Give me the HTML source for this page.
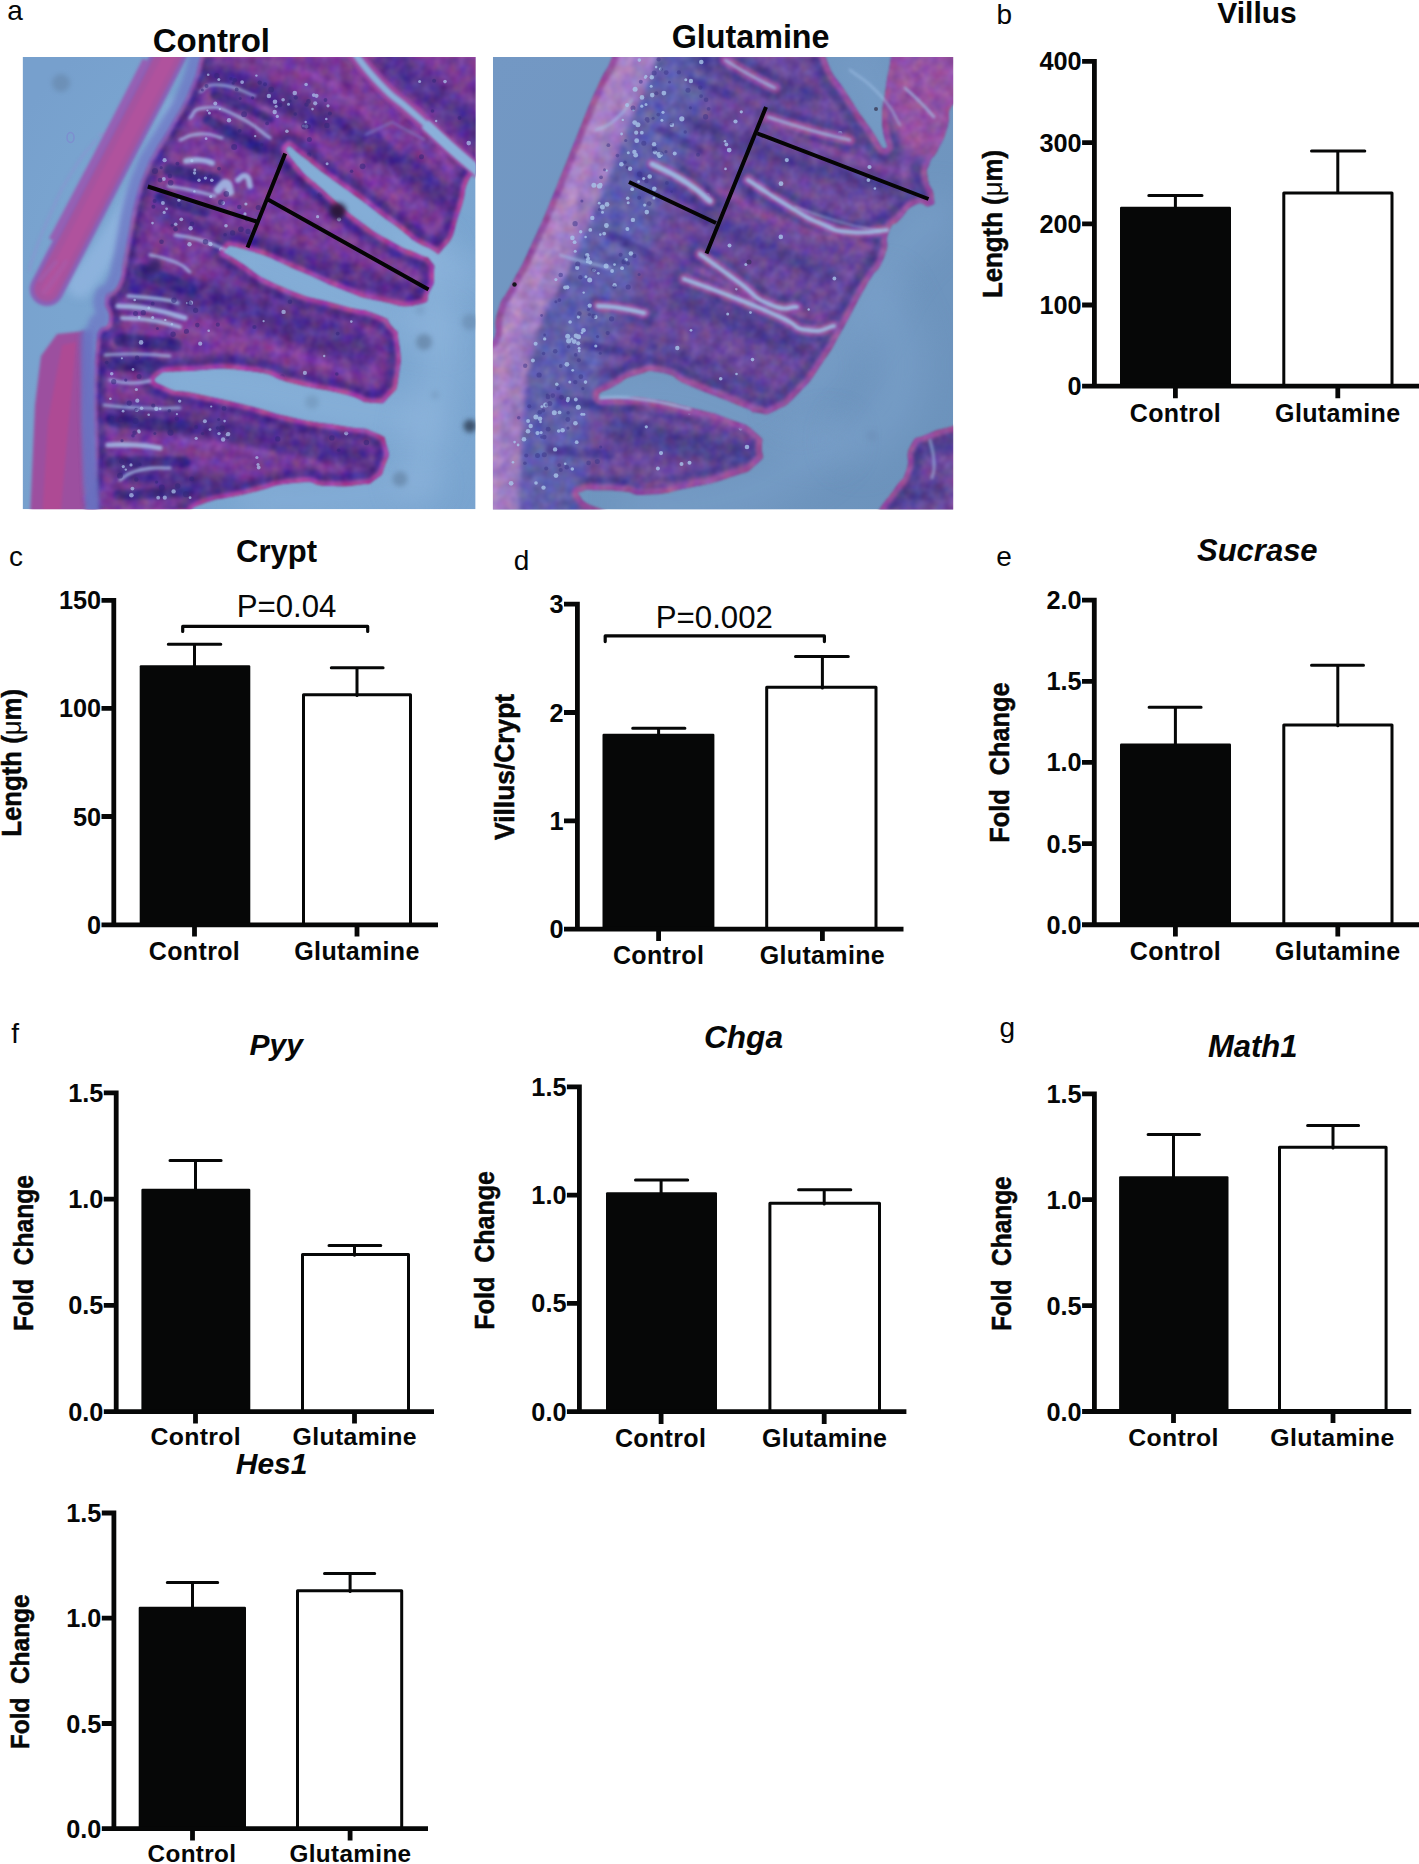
<!DOCTYPE html>
<html lang="en">
<head>
<meta charset="utf-8">
<title>Figure: Glutamine vs Control intestinal morphology</title>
<style>
html,body{margin:0;padding:0;background:#fff;}
body{width:1419px;height:1864px;overflow:hidden;}
svg{display:block;}
svg text{font-family:"Liberation Sans", Arial, Helvetica, sans-serif;fill:#060707;}
</style>
</head>
<body>
<svg width="1419" height="1864" viewBox="0 0 1419 1864">
<rect width="1419" height="1864" fill="#fff"/>
<text x="211.4" y="52.2" text-anchor="middle" font-size="33" font-weight="bold">Control</text>
<text x="750.6" y="48.3" text-anchor="middle" font-size="32.3" font-weight="bold">Glutamine</text>
<clipPath id="hclip"><rect x="22.6" y="57" width="453.0" height="452.2"/></clipPath>
<filter id="ha" filterUnits="userSpaceOnUse" x="0" y="30" width="500" height="500" color-interpolation-filters="sRGB"><feGaussianBlur stdDeviation="0.7"/></filter>
<filter id="hb" filterUnits="userSpaceOnUse" x="0" y="30" width="500" height="500" color-interpolation-filters="sRGB"><feGaussianBlur stdDeviation="1.4"/></filter>
<filter id="hc" filterUnits="userSpaceOnUse" x="0" y="30" width="500" height="500" color-interpolation-filters="sRGB"><feGaussianBlur stdDeviation="2.6"/></filter>
<filter id="hd" filterUnits="userSpaceOnUse" x="0" y="30" width="500" height="500" color-interpolation-filters="sRGB"><feGaussianBlur stdDeviation="4.5"/></filter>
<filter id="he" filterUnits="userSpaceOnUse" x="0" y="30" width="500" height="500" color-interpolation-filters="sRGB"><feGaussianBlur stdDeviation="8"/></filter>
<filter id="hf" filterUnits="userSpaceOnUse" x="0" y="30" width="500" height="500" color-interpolation-filters="sRGB"><feGaussianBlur stdDeviation="16"/></filter>
<filter id="hn" filterUnits="userSpaceOnUse" x="0" y="30" width="500" height="500" color-interpolation-filters="sRGB"><feTurbulence type="fractalNoise" baseFrequency="0.085" numOctaves="2" seed="5" result="t"/><feColorMatrix in="t" type="matrix" values="0.7 0.3 0 0 0  0.2 0.7 0.1 0 0  0 0.2 0.8 0 0  0 0 0 0 1" result="t2"/><feComposite in="SourceGraphic" in2="t2" operator="arithmetic" k1="0" k2="1" k3="0.3" k4="-0.15" result="m"/><feComposite in="m" in2="SourceGraphic" operator="in" result="q"/><feGaussianBlur in="q" stdDeviation="1.3"/></filter>
<radialGradient id="hbg" cx="0.62" cy="0.55" r="0.75"><stop offset="0" stop-color="#7ca7d1"/><stop offset="0.7" stop-color="#7aa5d0"/><stop offset="1" stop-color="#77a0cd"/></radialGradient>
<g clip-path="url(#hclip)">
<rect x="22.6" y="57" width="453.0" height="452.2" fill="url(#hbg)"/>
<path d="M178 110C172 123.3 173.3 121.7 160 150C146.7 178.3 154 165 138 195C122 225 131.3 210 112 240C92.7 270 90.7 270 80 285" stroke="#8fb4de" stroke-width="26" fill="none" stroke-linecap="round" filter="url(#hd)" opacity="0.9"/>
<path d="M96 140C88 150.7 87.3 147 72 172C56.7 197 62.7 187.3 50 215C37.3 242.7 40.7 236.7 34 255C27.3 273.3 31.3 265 30 270" stroke="#8b93d2" stroke-width="3" fill="none" stroke-linecap="round" filter="url(#hb)" opacity="0.55"/>
<path d="M100 135C106 136 118 129.7 118 138C118 146.3 116 134.3 100 160C84 185.7 88.7 181 70 215C51.3 249 52.7 246.3 44 262" stroke="#9a8fd0" stroke-width="3.5" fill="none" stroke-linecap="round" filter="url(#hb)" opacity="0.5"/>
<g filter="url(#hb)">
<path d="M181 30C176.5 39.3 188.4 17.3 167.5 58C146.6 98.7 154.6 82.8 118.4 152C82.2 221.2 81.8 222 59 265.7C36.2 309.4 53 277.2 50 283" stroke="#8a5fb6" stroke-width="34" fill="none" stroke-linecap="butt"/>
<path d="M181 30C176.5 39.3 188.4 17.3 167.5 58C146.6 98.7 154.6 82.8 118.4 152C82.2 221.2 81.8 222 59 265.7C36.2 309.4 53 277.2 50 283" stroke="#a5539f" stroke-width="25" fill="none" stroke-linecap="butt"/>
<path d="M182 30C177.5 39.3 189.4 17.3 168.5 58C147.6 98.7 155.6 82.8 119.4 152C83.2 221.2 82.8 222 60 265.7C37.2 309.4 54 277.2 51 283" stroke="#b0529d" stroke-width="13" fill="none" stroke-linecap="butt"/>
<path d="M146 60C134 83.3 133.3 85 110 130C86.7 175 95.3 158.3 76 195C56.7 231.7 60 225 52 240" stroke="#9560b4" stroke-width="7" fill="none" stroke-linecap="butt"/>
<path d="M57 334L85 331L88 380L90 440L97 520L30 520L33 450L35 405L41 356Z" fill="#9c4f9f"/>
<path d="M62 345L76 342L68 430L60 520L42 520L48 420Z" fill="#ae4a94"/>
</g>
<path d="M66 262C61.3 268.7 59.3 272 52 282C44.7 292 46.7 288.7 44 292" stroke="#a85aa8" stroke-width="5" fill="none" stroke-linecap="round" filter="url(#hb)" opacity="0.7"/>
<path d="M56 262C50.7 268 45.3 274 40 280" stroke="#a060b0" stroke-width="4" fill="none" stroke-linecap="round" filter="url(#hb)" opacity="0.6"/>
<path d="M300 160C320 176 320 178 360 208C400 238 383.3 227.7 420 250C456.7 272.3 453.3 266.7 470 275" stroke="#95bae0" stroke-width="34" fill="none" stroke-linecap="round" filter="url(#hf)" opacity="0.5"/>
<path d="M235 255C256.7 263.3 255 261.7 300 280C345 298.3 323.3 293.3 370 310C416.7 326.7 416.7 323.3 440 330" stroke="#95bae0" stroke-width="30" fill="none" stroke-linecap="round" filter="url(#hf)" opacity="0.5"/>
<path d="M170 380C196.7 382.7 196.7 379.7 250 388C303.3 396.3 273.3 394.3 330 405C386.7 415.7 390 415 420 420" stroke="#95bae0" stroke-width="40" fill="none" stroke-linecap="round" filter="url(#hf)" opacity="0.5"/>
<path d="M250 500C276.7 499.3 273.3 503 330 498C386.7 493 390 489.3 420 485" stroke="#95bae0" stroke-width="26" fill="none" stroke-linecap="round" filter="url(#hf)" opacity="0.5"/>
<path d="M420 250C426.7 276.7 436.7 273.3 440 330C443.3 386.7 436.7 370 430 420C423.3 470 423.3 460 420 480" stroke="#95bae0" stroke-width="40" fill="none" stroke-linecap="round" filter="url(#hf)" opacity="0.5"/>
<g filter="url(#hn)">
<path d="M199 57C205 37 172.3 40.7 206 30C239.7 19.3 235.3 26.7 300 25C364.7 23.3 338.3 25 400 25C461.7 25 456.7 -6.7 485 25C513.3 56.7 485.3 72.3 485 120C484.7 167.7 489 148.7 484 168C479 187.3 478 163.3 470 178C462 192.7 468.3 189 460 212C451.7 235 456.3 235.3 445 247C433.7 258.7 443.7 254.8 426 247C408.3 239.2 414.7 239.8 392 223.5C369.3 207.2 380.5 214.5 358 198C335.5 181.5 342.9 187.7 324.6 174C306.3 160.3 315.2 166 303 157C290.8 148 290.3 144.7 288 147C285.7 149.3 283.8 149.3 296 164C308.2 178.7 303.8 172.4 324.6 191C345.4 209.6 335.9 202.9 358.4 219.8C380.9 236.7 372.5 230.5 392.2 241.8C411.9 253.1 404.7 247.2 417.6 253.6C430.5 260 425.5 254.2 431 261C436.5 267.8 434.3 264 434 274C433.7 284 435.7 280.7 430 291C424.3 301.3 434 301.7 417 305C400 308.3 403.7 306 379 301C354.3 296 368.8 299.7 343 290C317.2 280.3 332.5 285 301.5 272C270.5 259 275.2 258.3 250 251C224.8 243.7 229.3 246.3 226 250C222.7 253.7 221 249.7 240 262C259 274.3 250.7 273 283 287C315.3 301 306 295 337 304C368 313 357.7 306.7 376 314C394.3 321.3 384.3 316.7 392 326C399.7 335.3 396.7 325.7 399 342C401.3 358.3 402 357 399 375C396 393 399 386.7 390 396C381 405.3 387.7 403.7 372 403C356.3 402.3 368.7 400.3 343 394C317.3 387.7 326.7 391.7 295 384C263.3 376.3 283 375.3 248 371C213 366.7 220 369.3 190 371C160 372.7 165.3 370.3 158 376C150.7 381.7 154.7 382 168 388C181.3 394 172 388.3 198 394C224 399.7 213.7 397 246 405C278.3 413 262.7 411 295 418C327.3 425 316.7 421.3 343 426C369.3 430.7 359.3 425.3 374 432C388.7 438.7 383.3 434.7 387 446C390.7 457.3 389 454.7 385 466C381 477.3 384 473.7 375 480C366 486.3 374 483 358 485C342 487 348 486.7 327 486C306 485.3 322 480.3 295 483C268 485.7 277.7 486.7 246 494C214.3 501.3 223.3 496.3 200 505C176.7 513.7 211 515 176 520C141 525 122.7 543.3 95 520C67.3 496.7 94 492.3 93 450C92 407.7 91.3 428 92 393C92.7 358 93 366 95 345C97 324 93.7 338.3 98 330C102.3 321.7 106 330.7 108 320C110 309.3 101 310 104 298C107 286 111 296.7 117 284C123 271.3 119 274.7 122 260C125 245.3 122 260 126 240C130 220 127.7 224 134 200C140.3 176 138.3 184.7 145 168C151.7 151.3 146 164.3 154 150C162 135.7 157.7 145 169 125C180.3 105 178 112.7 188 90C198 67.3 193 77 199 57Z" fill="#a6439f"/>
<mask id="hm"><rect x="0" y="30" width="500" height="500" fill="#000"/><path d="M199 57C205 37 172.3 40.7 206 30C239.7 19.3 235.3 26.7 300 25C364.7 23.3 338.3 25 400 25C461.7 25 456.7 -6.7 485 25C513.3 56.7 485.3 72.3 485 120C484.7 167.7 489 148.7 484 168C479 187.3 478 163.3 470 178C462 192.7 468.3 189 460 212C451.7 235 456.3 235.3 445 247C433.7 258.7 443.7 254.8 426 247C408.3 239.2 414.7 239.8 392 223.5C369.3 207.2 380.5 214.5 358 198C335.5 181.5 342.9 187.7 324.6 174C306.3 160.3 315.2 166 303 157C290.8 148 290.3 144.7 288 147C285.7 149.3 283.8 149.3 296 164C308.2 178.7 303.8 172.4 324.6 191C345.4 209.6 335.9 202.9 358.4 219.8C380.9 236.7 372.5 230.5 392.2 241.8C411.9 253.1 404.7 247.2 417.6 253.6C430.5 260 425.5 254.2 431 261C436.5 267.8 434.3 264 434 274C433.7 284 435.7 280.7 430 291C424.3 301.3 434 301.7 417 305C400 308.3 403.7 306 379 301C354.3 296 368.8 299.7 343 290C317.2 280.3 332.5 285 301.5 272C270.5 259 275.2 258.3 250 251C224.8 243.7 229.3 246.3 226 250C222.7 253.7 221 249.7 240 262C259 274.3 250.7 273 283 287C315.3 301 306 295 337 304C368 313 357.7 306.7 376 314C394.3 321.3 384.3 316.7 392 326C399.7 335.3 396.7 325.7 399 342C401.3 358.3 402 357 399 375C396 393 399 386.7 390 396C381 405.3 387.7 403.7 372 403C356.3 402.3 368.7 400.3 343 394C317.3 387.7 326.7 391.7 295 384C263.3 376.3 283 375.3 248 371C213 366.7 220 369.3 190 371C160 372.7 165.3 370.3 158 376C150.7 381.7 154.7 382 168 388C181.3 394 172 388.3 198 394C224 399.7 213.7 397 246 405C278.3 413 262.7 411 295 418C327.3 425 316.7 421.3 343 426C369.3 430.7 359.3 425.3 374 432C388.7 438.7 383.3 434.7 387 446C390.7 457.3 389 454.7 385 466C381 477.3 384 473.7 375 480C366 486.3 374 483 358 485C342 487 348 486.7 327 486C306 485.3 322 480.3 295 483C268 485.7 277.7 486.7 246 494C214.3 501.3 223.3 496.3 200 505C176.7 513.7 211 515 176 520C141 525 122.7 543.3 95 520C67.3 496.7 94 492.3 93 450C92 407.7 91.3 428 92 393C92.7 358 93 366 95 345C97 324 93.7 338.3 98 330C102.3 321.7 106 330.7 108 320C110 309.3 101 310 104 298C107 286 111 296.7 117 284C123 271.3 119 274.7 122 260C125 245.3 122 260 126 240C130 220 127.7 224 134 200C140.3 176 138.3 184.7 145 168C151.7 151.3 146 164.3 154 150C162 135.7 157.7 145 169 125C180.3 105 178 112.7 188 90C198 67.3 193 77 199 57Z" fill="#fff" stroke="#000" stroke-width="10" filter="url(#hb)"/></mask>
<mask id="hm2"><rect x="0" y="30" width="500" height="500" fill="#000"/><path d="M199 57C205 37 172.3 40.7 206 30C239.7 19.3 235.3 26.7 300 25C364.7 23.3 338.3 25 400 25C461.7 25 456.7 -6.7 485 25C513.3 56.7 485.3 72.3 485 120C484.7 167.7 489 148.7 484 168C479 187.3 478 163.3 470 178C462 192.7 468.3 189 460 212C451.7 235 456.3 235.3 445 247C433.7 258.7 443.7 254.8 426 247C408.3 239.2 414.7 239.8 392 223.5C369.3 207.2 380.5 214.5 358 198C335.5 181.5 342.9 187.7 324.6 174C306.3 160.3 315.2 166 303 157C290.8 148 290.3 144.7 288 147C285.7 149.3 283.8 149.3 296 164C308.2 178.7 303.8 172.4 324.6 191C345.4 209.6 335.9 202.9 358.4 219.8C380.9 236.7 372.5 230.5 392.2 241.8C411.9 253.1 404.7 247.2 417.6 253.6C430.5 260 425.5 254.2 431 261C436.5 267.8 434.3 264 434 274C433.7 284 435.7 280.7 430 291C424.3 301.3 434 301.7 417 305C400 308.3 403.7 306 379 301C354.3 296 368.8 299.7 343 290C317.2 280.3 332.5 285 301.5 272C270.5 259 275.2 258.3 250 251C224.8 243.7 229.3 246.3 226 250C222.7 253.7 221 249.7 240 262C259 274.3 250.7 273 283 287C315.3 301 306 295 337 304C368 313 357.7 306.7 376 314C394.3 321.3 384.3 316.7 392 326C399.7 335.3 396.7 325.7 399 342C401.3 358.3 402 357 399 375C396 393 399 386.7 390 396C381 405.3 387.7 403.7 372 403C356.3 402.3 368.7 400.3 343 394C317.3 387.7 326.7 391.7 295 384C263.3 376.3 283 375.3 248 371C213 366.7 220 369.3 190 371C160 372.7 165.3 370.3 158 376C150.7 381.7 154.7 382 168 388C181.3 394 172 388.3 198 394C224 399.7 213.7 397 246 405C278.3 413 262.7 411 295 418C327.3 425 316.7 421.3 343 426C369.3 430.7 359.3 425.3 374 432C388.7 438.7 383.3 434.7 387 446C390.7 457.3 389 454.7 385 466C381 477.3 384 473.7 375 480C366 486.3 374 483 358 485C342 487 348 486.7 327 486C306 485.3 322 480.3 295 483C268 485.7 277.7 486.7 246 494C214.3 501.3 223.3 496.3 200 505C176.7 513.7 211 515 176 520C141 525 122.7 543.3 95 520C67.3 496.7 94 492.3 93 450C92 407.7 91.3 428 92 393C92.7 358 93 366 95 345C97 324 93.7 338.3 98 330C102.3 321.7 106 330.7 108 320C110 309.3 101 310 104 298C107 286 111 296.7 117 284C123 271.3 119 274.7 122 260C125 245.3 122 260 126 240C130 220 127.7 224 134 200C140.3 176 138.3 184.7 145 168C151.7 151.3 146 164.3 154 150C162 135.7 157.7 145 169 125C180.3 105 178 112.7 188 90C198 67.3 193 77 199 57Z" fill="#fff" stroke="#000" stroke-width="26" filter="url(#hc)"/></mask>
<g mask="url(#hm)">
<rect x="22.6" y="57" width="453.0" height="452.2" fill="#4d2f8b"/>
<rect x="22.6" y="57" width="453.0" height="452.2" fill="#783c98" mask="url(#hm2)"/>
<path d="M215 75C243.3 86.7 245 85 300 110C355 135 333.3 121.7 380 150C426.7 178.3 420 180 440 195" stroke="#4a2f88" stroke-width="26" fill="none" stroke-linecap="round" filter="url(#hd)" opacity="0.85"/>
<path d="M230 130C250 141.7 256.7 141.7 290 165C323.3 188.3 316.7 188.3 330 200" stroke="#432b82" stroke-width="18" fill="none" stroke-linecap="round" filter="url(#hd)" opacity="0.85"/>
<path d="M160 215C183.3 221.7 183.3 221.7 230 235C276.7 248.3 256.7 241.7 300 255C343.3 268.3 323.3 263.3 360 275C396.7 286.7 393.3 285 410 290" stroke="#4c308a" stroke-width="12" fill="none" stroke-linecap="round" filter="url(#hd)" opacity="0.85"/>
<path d="M140 290C166.7 293.3 170 288.3 220 300C270 311.7 243.3 308.3 290 325C336.7 341.7 336.7 341.7 360 350" stroke="#4c308a" stroke-width="34" fill="none" stroke-linecap="round" filter="url(#hd)" opacity="0.85"/>
<path d="M120 415C146.7 418.3 143.3 415 200 425C256.7 435 236.7 434 290 445C343.3 456 336.7 453.7 360 458" stroke="#4c308a" stroke-width="26" fill="none" stroke-linecap="round" filter="url(#hd)" opacity="0.85"/>
<path d="M120 470C136.7 473.3 133.3 475 170 480C206.7 485 210 483.3 230 485" stroke="#4a2f88" stroke-width="20" fill="none" stroke-linecap="round" filter="url(#hd)" opacity="0.85"/>
<path d="M110 360C123.3 360.7 136.7 361.3 150 362" stroke="#412a80" stroke-width="16" fill="none" stroke-linecap="round" filter="url(#hd)" opacity="0.85"/>
<path d="M390 60C406.7 73.3 411.7 76.7 440 100C468.3 123.3 463.3 120 475 130" stroke="#50338e" stroke-width="30" fill="none" stroke-linecap="round" filter="url(#hd)" opacity="0.85"/>
<path d="M170 170C185 173.3 200 176.7 215 180" stroke="#3a2a82" stroke-width="13" fill="none" stroke-linecap="round" filter="url(#hb)" opacity="0.9"/>
<path d="M160 198C175 202.7 190 207.3 205 212" stroke="#3a2a82" stroke-width="11" fill="none" stroke-linecap="round" filter="url(#hb)" opacity="0.9"/>
<path d="M208 120C226 130 244 140 262 150" stroke="#3a2a82" stroke-width="10" fill="none" stroke-linecap="round" filter="url(#hb)" opacity="0.9"/>
<path d="M215 95C233.3 102.7 251.7 110.3 270 118" stroke="#3a2a82" stroke-width="9" fill="none" stroke-linecap="round" filter="url(#hb)" opacity="0.9"/>
<path d="M140 270C156.7 276.7 173.3 283.3 190 290" stroke="#3a2a82" stroke-width="14" fill="none" stroke-linecap="round" filter="url(#hb)" opacity="0.9"/>
<path d="M120 340C138.3 341.7 156.7 343.3 175 345" stroke="#3a2a82" stroke-width="13" fill="none" stroke-linecap="round" filter="url(#hb)" opacity="0.9"/>
<path d="M112 365C128 365.3 144 365.7 160 366" stroke="#3a2a82" stroke-width="11" fill="none" stroke-linecap="round" filter="url(#hb)" opacity="0.9"/>
<path d="M112 420C138 422.7 164 425.3 190 428" stroke="#3a2a82" stroke-width="12" fill="none" stroke-linecap="round" filter="url(#hb)" opacity="0.9"/>
<path d="M110 462C135 462 160 462 185 462" stroke="#3a2a82" stroke-width="11" fill="none" stroke-linecap="round" filter="url(#hb)" opacity="0.9"/>
<path d="M118 495C142 494 166 493 190 492" stroke="#3a2a82" stroke-width="10" fill="none" stroke-linecap="round" filter="url(#hb)" opacity="0.9"/>
<path d="M300 70C316.7 80 316.7 73.3 350 100C383.3 126.7 383.3 133.3 400 150" stroke="#9049ac" stroke-width="6" fill="none" stroke-linecap="round" filter="url(#hc)" opacity="0.75"/>
<path d="M250 100C276.7 116.7 280 116.7 330 150C380 183.3 376.7 183.3 400 200" stroke="#8a47a8" stroke-width="5" fill="none" stroke-linecap="round" filter="url(#hc)" opacity="0.75"/>
<path d="M180 330C206.7 335 206.7 331.7 260 345C313.3 358.3 313.3 361.7 340 370" stroke="#9049ac" stroke-width="6" fill="none" stroke-linecap="round" filter="url(#hc)" opacity="0.75"/>
<path d="M150 440C183.3 443.3 186.7 440 250 450C313.3 460 310 463.3 340 470" stroke="#9049ac" stroke-width="5" fill="none" stroke-linecap="round" filter="url(#hc)" opacity="0.75"/>
<path d="M420 110C430 130 440 150 450 170" stroke="#9049ac" stroke-width="6" fill="none" stroke-linecap="round" filter="url(#hc)" opacity="0.75"/>
<path d="M260 262C283.3 269.7 283.3 273 330 285C376.7 297 376.7 293.7 400 298" stroke="#9049ac" stroke-width="4" fill="none" stroke-linecap="round" filter="url(#hc)" opacity="0.75"/>
</g>
</g>
<path d="M197 50C193 63.3 195.3 65 185 90C174.7 115 177.3 105 166 125C154.7 145 159 135.7 151 150C143 164.3 148.7 151.3 142 168C135.3 184.7 137.3 176 131 200C124.7 224 127 220 123 240C119 260 122.7 245.3 119 260C115.3 274.7 118.3 271.3 112 284C105.7 296.7 103 286 100 298C97 310 105.3 309 103 320C100.7 331 97.7 306.7 93 331C88.3 355.3 90 353.3 89 393C88 432.7 88.7 407.7 90 450C91.3 492.3 92 496.7 93 520" stroke="#6f7cc6" stroke-width="13" fill="none" stroke-linecap="round" filter="url(#hc)" opacity="0.85"/>
<path d="M86 335C86.7 354.3 87 354.7 88 393C89 431.3 87.7 407.7 89 450C90.3 492.3 91 496.7 92 520" stroke="#6a6fc0" stroke-width="12" fill="none" stroke-linecap="round" filter="url(#hc)" opacity="0.8"/>
<path d="M352 50C361.3 61.3 361.3 64.5 380 84C398.7 103.5 391.3 93.8 408 108.5C424.7 123.2 416.3 115.5 430 128C443.7 140.5 432.3 131.3 449 146C465.7 160.7 469.7 163.3 480 172" stroke="#a34aa2" stroke-width="15" fill="none" stroke-linecap="butt" filter="url(#hb)" opacity="0.85"/>
<path d="M352 50C361.3 61.3 361.3 64.5 380 84C398.7 103.5 391.3 93.8 408 108.5C424.7 123.2 416.3 115.5 430 128C443.7 140.5 432.3 131.3 449 146C465.7 160.7 469.7 163.3 480 172" stroke="#8ab0da" stroke-width="6.5" fill="none" stroke-linecap="butt" filter="url(#hb)" opacity="1"/>
<path d="M425 124C433 131.3 430.7 129.7 449 146C467.3 162.3 469.7 164 480 173" stroke="#8ab0da" stroke-width="10" fill="none" stroke-linecap="butt" filter="url(#hb)" opacity="1"/>
<path d="M365 135L392 122L425 140" stroke="#7a78c4" stroke-width="2" fill="none" filter="url(#hb)" opacity=".8"/>
<path d="M118 306C128.7 307 127.7 305 150 309C172.3 313 173.3 315 185 318" stroke="#a6c2ea" stroke-width="5.175" fill="none" stroke-linecap="round" filter="url(#hb)" opacity="0.85"/>
<path d="M122 318C131.3 318.7 130.7 317 150 320C169.3 323 170 324.7 180 327" stroke="#a6c2ea" stroke-width="4.0249999999999995" fill="none" stroke-linecap="round" filter="url(#hb)" opacity="0.85"/>
<path d="M128 296C138.7 297 143.3 296.7 160 299C176.7 301.3 172 301.7 178 303" stroke="#a6c2ea" stroke-width="3.4499999999999997" fill="none" stroke-linecap="round" filter="url(#hb)" opacity="0.85"/>
<path d="M108 445C117 445 117.7 444 135 445C152.3 446 151.7 447 160 448" stroke="#a6c2ea" stroke-width="5.175" fill="none" stroke-linecap="round" filter="url(#hb)" opacity="0.85"/>
<path d="M186 161C190.7 160.7 191.3 159.3 200 160C208.7 160.7 208 162 212 163" stroke="#a6c2ea" stroke-width="5.75" fill="none" stroke-linecap="round" filter="url(#hb)" opacity="0.85"/>
<path d="M218 190C220.7 187.7 222 182.3 226 183C230 183.7 228.7 189 230 192" stroke="#a6c2ea" stroke-width="8.049999999999999" fill="none" stroke-linecap="round" filter="url(#hb)" opacity="0.85"/>
<path d="M238 180C240.7 178.7 242 174 246 176C250 178 248.7 182.7 250 186" stroke="#a6c2ea" stroke-width="5.75" fill="none" stroke-linecap="round" filter="url(#hb)" opacity="0.85"/>
<path d="M175 235C183.3 236.7 183 235 200 240C217 245 217.3 246.7 226 250" stroke="#a6c2ea" stroke-width="2.875" fill="none" stroke-linecap="round" filter="url(#hb)" opacity="0.85"/>
<path d="M190 118C195 114.7 190 109 205 108C220 107 213.3 105 235 115C256.7 125 258.3 130.3 270 138" stroke="#a6c2ea" stroke-width="2.875" fill="none" stroke-linecap="round" filter="url(#hb)" opacity="0.85"/>
<path d="M200 92C206.7 89.7 201.7 83.7 220 85C238.3 86.3 243.3 92.3 255 96" stroke="#a6c2ea" stroke-width="2.3" fill="none" stroke-linecap="round" filter="url(#hb)" opacity="0.85"/>
<path d="M150 255C158.3 257.3 161.7 256.3 175 262C188.3 267.7 185 268.7 190 272" stroke="#a6c2ea" stroke-width="2.875" fill="none" stroke-linecap="round" filter="url(#hb)" opacity="0.85"/>
<path d="M110 380C116.7 381 116.7 382.7 130 383C143.3 383.3 143.3 381.7 150 381" stroke="#a6c2ea" stroke-width="2.875" fill="none" stroke-linecap="round" filter="url(#hb)" opacity="0.85"/>
<path d="M120 480C126.7 476.7 123.3 474 140 470C156.7 466 160 468.7 170 468" stroke="#a6c2ea" stroke-width="2.875" fill="none" stroke-linecap="round" filter="url(#hb)" opacity="0.85"/>
<path d="M168 186C175.3 187.3 174.3 186.7 190 190C205.7 193.3 206.7 194 215 196" stroke="#a6c2ea" stroke-width="2.875" fill="none" stroke-linecap="round" filter="url(#hb)" opacity="0.85"/>
<path d="M180 140C186.7 138 186 134.7 200 134C214 133.3 214.7 136.7 222 138" stroke="#a6c2ea" stroke-width="2.875" fill="none" stroke-linecap="round" filter="url(#hb)" opacity="0.85"/>
<path d="M105 355C115 354.7 113.3 353.7 135 354C156.7 354.3 158.3 355.3 170 356" stroke="#a6c2ea" stroke-width="2.53" fill="none" stroke-linecap="round" filter="url(#hb)" opacity="0.85"/>
<path d="M104 405C116 406 114.7 407 140 408C165.3 409 166.7 408 180 408" stroke="#a6c2ea" stroke-width="2.53" fill="none" stroke-linecap="round" filter="url(#hb)" opacity="0.85"/>
<g fill="#b0c8ee" filter="url(#ha)" opacity=".7" mask="url(#hm)"><circle cx="242.1" cy="82.1" r="1.9"/><circle cx="209.4" cy="112.9" r="1.5"/><circle cx="207.5" cy="110.6" r="1.1"/><circle cx="256.4" cy="75.6" r="1.2"/><circle cx="255.2" cy="136.1" r="1.2"/><circle cx="229" cy="120.2" r="2.2"/><circle cx="275" cy="101.7" r="2.3"/><circle cx="206.1" cy="138.7" r="1.4"/><circle cx="218.8" cy="79.4" r="1.5"/><circle cx="306.1" cy="84.5" r="1.8"/><circle cx="283.1" cy="99.8" r="1.8"/><circle cx="208.2" cy="74.8" r="1.3"/><circle cx="288.5" cy="104.2" r="1.5"/><circle cx="276.1" cy="106.3" r="1.5"/><circle cx="303.3" cy="125.9" r="1.4"/><circle cx="274.7" cy="112" r="2.2"/><circle cx="294.8" cy="93" r="2.3"/><circle cx="215.3" cy="103.4" r="2"/><circle cx="219.8" cy="109.1" r="1.1"/><circle cx="286.9" cy="131.2" r="1.8"/><circle cx="313.8" cy="95.1" r="1.9"/><circle cx="277.3" cy="116.4" r="1.6"/><circle cx="242.4" cy="247.2" r="1.7"/><circle cx="223.1" cy="203" r="1.9"/><circle cx="221.2" cy="249.7" r="2.1"/><circle cx="181.3" cy="219.3" r="1.9"/><circle cx="152.5" cy="223.1" r="1.3"/><circle cx="162.9" cy="202.9" r="2"/><circle cx="164.2" cy="212.4" r="1.6"/><circle cx="245.9" cy="204" r="1.6"/><circle cx="210.4" cy="244.2" r="2.1"/><circle cx="245" cy="213.9" r="1.6"/><circle cx="189.5" cy="244.2" r="2.2"/><circle cx="166.6" cy="208.8" r="1.4"/><circle cx="175.7" cy="224.2" r="1.8"/><circle cx="178.9" cy="200.2" r="1.6"/><circle cx="190.6" cy="228.3" r="2.2"/><circle cx="226" cy="225.8" r="1.8"/><circle cx="190.9" cy="302.7" r="2.2"/><circle cx="200.2" cy="343.7" r="2.1"/><circle cx="165.3" cy="319.9" r="1.2"/><circle cx="187.1" cy="303.1" r="1.2"/><circle cx="148.8" cy="308.1" r="1.5"/><circle cx="134.7" cy="300" r="1.3"/><circle cx="139.1" cy="318.2" r="1.1"/><circle cx="208.7" cy="330.7" r="1.3"/><circle cx="152.7" cy="317.4" r="1.5"/><circle cx="141.1" cy="342.4" r="2.3"/><circle cx="171.9" cy="324.2" r="1.2"/><circle cx="139.2" cy="317.1" r="1.4"/><circle cx="211.2" cy="406.5" r="1.1"/><circle cx="224.6" cy="421.1" r="1.3"/><circle cx="179.7" cy="401.1" r="1.7"/><circle cx="227.6" cy="434.5" r="1.9"/><circle cx="148.7" cy="414.7" r="1.3"/><circle cx="204.9" cy="421.3" r="2"/><circle cx="156.3" cy="408.9" r="2.1"/><circle cx="228.3" cy="434.1" r="2.1"/><circle cx="210" cy="429.6" r="1.4"/><circle cx="176.9" cy="414.2" r="1.1"/><circle cx="123.1" cy="411.2" r="1.4"/><circle cx="196.2" cy="438.3" r="1.6"/><circle cx="223.1" cy="439.5" r="2.2"/><circle cx="160.1" cy="408.8" r="1.4"/><circle cx="141.6" cy="408.2" r="1.8"/><circle cx="219" cy="433.6" r="1.7"/><circle cx="305.7" cy="122" r="1.2"/><circle cx="306.2" cy="126.4" r="2"/><circle cx="312.5" cy="109.1" r="1.3"/><circle cx="315.2" cy="103.3" r="2.1"/><circle cx="328" cy="105.8" r="1.6"/><circle cx="326.3" cy="119" r="1.3"/><circle cx="268.9" cy="96" r="2.2"/><circle cx="316.5" cy="95.8" r="2.1"/><circle cx="139.2" cy="432" r="1.5"/><circle cx="121.9" cy="358.3" r="1.1"/><circle cx="138.8" cy="431" r="1.7"/><circle cx="137.3" cy="400.7" r="2.1"/><circle cx="133" cy="369.5" r="1.4"/><circle cx="111.7" cy="373.7" r="1.8"/><circle cx="110.4" cy="398.7" r="1.3"/><circle cx="136.4" cy="389.5" r="1.6"/><circle cx="123.3" cy="466.6" r="1.6"/><circle cx="136.7" cy="410.2" r="1.7"/><circle cx="191.9" cy="160.7" r="1.6"/><circle cx="164.6" cy="160.2" r="2.1"/><circle cx="163.8" cy="178.9" r="2"/><circle cx="194.5" cy="173" r="1.7"/><circle cx="194.4" cy="191.4" r="1.2"/><circle cx="194.8" cy="169.9" r="1.4"/><circle cx="211.8" cy="180.3" r="1.8"/><circle cx="210.8" cy="196.5" r="1.6"/><circle cx="199" cy="180.2" r="1.7"/><circle cx="205.4" cy="178.1" r="1.7"/><circle cx="158.2" cy="497.7" r="1.9"/><circle cx="190.1" cy="497.7" r="1.4"/><circle cx="164.8" cy="497.7" r="2.1"/><circle cx="131" cy="464.9" r="1.6"/><circle cx="125.8" cy="469.6" r="1.2"/><circle cx="173.6" cy="491.4" r="2.2"/><circle cx="132.4" cy="488.6" r="1.9"/><circle cx="131.4" cy="495.3" r="2.3"/><circle cx="317.6" cy="216.7" r="1.6"/><circle cx="339" cy="219.3" r="2.1"/><circle cx="312.9" cy="180.2" r="1.7"/><circle cx="327.1" cy="163.7" r="1.5"/><circle cx="445" cy="81.6" r="1.8"/><circle cx="419.6" cy="81.4" r="1.5"/><circle cx="436.2" cy="121" r="1.2"/><circle cx="468.7" cy="143.1" r="2.3"/><circle cx="263.6" cy="321.2" r="1.1"/><circle cx="351.3" cy="321.6" r="1.3"/><circle cx="304.9" cy="372.9" r="2.1"/><circle cx="283.6" cy="311.9" r="2.2"/><circle cx="324.2" cy="356" r="1.2"/><circle cx="256.9" cy="457.5" r="1.6"/><circle cx="258.7" cy="467.5" r="1.9"/><circle cx="346.2" cy="433.3" r="2.1"/><circle cx="258" cy="464.5" r="1.6"/></g>
<g fill="#33277a" filter="url(#ha)" opacity=".55" mask="url(#hm)"><circle cx="244.1" cy="114.2" r="2.9"/><circle cx="234.8" cy="80.3" r="2.3"/><circle cx="231" cy="78.8" r="1.7"/><circle cx="206.5" cy="86.1" r="2"/><circle cx="239.7" cy="130.8" r="1.9"/><circle cx="265" cy="84.2" r="2"/><circle cx="202.4" cy="90" r="1.5"/><circle cx="295.3" cy="114.1" r="1.8"/><circle cx="261.7" cy="144.8" r="1.7"/><circle cx="306.5" cy="104.6" r="2.2"/><circle cx="308.5" cy="101.4" r="2.3"/><circle cx="289.4" cy="148.6" r="2"/><circle cx="308.2" cy="126.5" r="2.5"/><circle cx="252.6" cy="97.8" r="1.6"/><circle cx="216.9" cy="75.7" r="2.6"/><circle cx="233.2" cy="83.1" r="1.6"/><circle cx="309.4" cy="139.6" r="2.5"/><circle cx="236.7" cy="89.4" r="1.9"/><circle cx="259.7" cy="82.6" r="2.2"/><circle cx="234.2" cy="146.9" r="3"/><circle cx="271.1" cy="89.6" r="2.9"/><circle cx="240.2" cy="98.5" r="1.5"/><circle cx="192" cy="223.7" r="2.3"/><circle cx="172.1" cy="225.2" r="1.5"/><circle cx="179.1" cy="204.5" r="2.1"/><circle cx="154.6" cy="201.1" r="2"/><circle cx="175.6" cy="229.3" r="2.3"/><circle cx="232.6" cy="232.9" r="2.6"/><circle cx="246.7" cy="219.5" r="2"/><circle cx="258.3" cy="207.5" r="2.6"/><circle cx="220.8" cy="202.2" r="2.8"/><circle cx="248.1" cy="231.4" r="2.6"/><circle cx="239.3" cy="207" r="2.3"/><circle cx="205.5" cy="241.7" r="2.7"/><circle cx="240.9" cy="229.2" r="2.8"/><circle cx="225.1" cy="234.7" r="1.8"/><circle cx="153.4" cy="206.7" r="2"/><circle cx="161.5" cy="241.8" r="2.3"/><circle cx="186.5" cy="331.3" r="2.5"/><circle cx="174" cy="300.2" r="2.7"/><circle cx="197.3" cy="325.1" r="2.3"/><circle cx="189.3" cy="303.3" r="2.6"/><circle cx="152.7" cy="303.7" r="1.9"/><circle cx="195.6" cy="310.3" r="2.6"/><circle cx="217.8" cy="324.7" r="2.1"/><circle cx="173.1" cy="334.2" r="2.7"/><circle cx="185.5" cy="332.1" r="1.6"/><circle cx="143.3" cy="312.7" r="2.6"/><circle cx="157.4" cy="328.4" r="1.5"/><circle cx="135.5" cy="313.4" r="2.5"/><circle cx="196.1" cy="427" r="1.9"/><circle cx="176.8" cy="418.6" r="2.2"/><circle cx="133" cy="435.7" r="1.8"/><circle cx="227.6" cy="437.5" r="1.5"/><circle cx="170.5" cy="432.8" r="3"/><circle cx="169.4" cy="410.7" r="1.8"/><circle cx="224" cy="408.4" r="2.4"/><circle cx="135.6" cy="421" r="2.9"/><circle cx="134.6" cy="432.8" r="2.3"/><circle cx="217.6" cy="428.1" r="1.8"/><circle cx="218.7" cy="419.4" r="1.5"/><circle cx="120.4" cy="419.7" r="2.2"/><circle cx="153.2" cy="405.6" r="2"/><circle cx="154.8" cy="433.6" r="1.5"/><circle cx="202.6" cy="433.6" r="1.7"/><circle cx="221.9" cy="428.5" r="2.9"/><circle cx="280.3" cy="104.9" r="2.1"/><circle cx="329.9" cy="113.6" r="2"/><circle cx="290" cy="101" r="1.6"/><circle cx="267.1" cy="123.4" r="1.9"/><circle cx="325.5" cy="100" r="1.9"/><circle cx="295.8" cy="97.6" r="2.1"/><circle cx="326.9" cy="125.4" r="2.7"/><circle cx="304.2" cy="126.5" r="2.9"/><circle cx="122" cy="440.7" r="1.6"/><circle cx="129.3" cy="403.1" r="2.6"/><circle cx="125.8" cy="380.1" r="1.6"/><circle cx="137.1" cy="357.8" r="2.2"/><circle cx="113.7" cy="381.7" r="2.6"/><circle cx="139.1" cy="376.4" r="2.5"/><circle cx="112" cy="418" r="2.1"/><circle cx="106.7" cy="362.6" r="1.8"/><circle cx="136.2" cy="409.6" r="1.8"/><circle cx="136.3" cy="479.5" r="2.2"/><circle cx="161.2" cy="167.7" r="1.6"/><circle cx="177.4" cy="163.6" r="1.9"/><circle cx="170.7" cy="182.8" r="2.8"/><circle cx="210" cy="176.5" r="2.1"/><circle cx="191.9" cy="175.1" r="2"/><circle cx="155" cy="171.1" r="3"/><circle cx="160.1" cy="180.1" r="2.4"/><circle cx="219" cy="168.6" r="1.9"/><circle cx="169.9" cy="176" r="2.2"/><circle cx="226.3" cy="193.9" r="2.8"/><circle cx="121.7" cy="461.3" r="2.6"/><circle cx="191.7" cy="478.9" r="2.4"/><circle cx="120" cy="475.7" r="2.9"/><circle cx="186" cy="494.2" r="3"/><circle cx="139.9" cy="464.4" r="1.7"/><circle cx="161.8" cy="487.3" r="2.9"/><circle cx="177.7" cy="485.9" r="2.6"/><circle cx="156.6" cy="482.1" r="1.6"/><circle cx="362.6" cy="166.3" r="2.9"/><circle cx="351.6" cy="171.3" r="1.7"/><circle cx="320.1" cy="194.5" r="2.5"/><circle cx="309" cy="154.9" r="2.3"/><circle cx="432.5" cy="111" r="1.8"/><circle cx="434.1" cy="80.8" r="2"/><circle cx="421.5" cy="156.7" r="2.5"/><circle cx="459.5" cy="118" r="1.9"/><circle cx="282.1" cy="376.8" r="2.6"/><circle cx="290" cy="301.7" r="2.2"/><circle cx="337.7" cy="333.6" r="1.9"/><circle cx="336.8" cy="374" r="1.8"/><circle cx="254.4" cy="327" r="2.1"/><circle cx="331.9" cy="437.9" r="2.7"/><circle cx="338.7" cy="450.2" r="1.8"/><circle cx="366.4" cy="442.5" r="2.7"/><circle cx="277.7" cy="438.9" r="2.6"/></g>
<circle cx="155" cy="266" r="7" fill="#2e1f63" filter="url(#hc)" opacity=".8"/>
<circle cx="338" cy="211" r="8" fill="#2a1838" opacity="0.95" filter="url(#hc)"/>
<circle cx="424" cy="342" r="8" fill="#5d7a9a" opacity="0.6" filter="url(#hc)"/>
<circle cx="470" cy="322" r="8" fill="#6585a8" opacity="0.5" filter="url(#hc)"/>
<circle cx="470" cy="426" r="6.5" fill="#2f3f55" opacity="0.8" filter="url(#hc)"/>
<circle cx="400" cy="479" r="7.5" fill="#5d7a9a" opacity="0.55" filter="url(#hc)"/>
<circle cx="312" cy="402" r="7" fill="#6a8db0" opacity="0.45" filter="url(#hc)"/>
<circle cx="61" cy="83" r="9" fill="#6483a6" opacity="0.55" filter="url(#hc)"/>
<circle cx="435" cy="395" r="4" fill="#6d90b6" opacity="0.4" filter="url(#hc)"/>
<circle cx="420" cy="310" r="5" fill="#6d90b6" opacity="0.35" filter="url(#hc)"/>
<ellipse cx="70.5" cy="137.5" rx="3.5" ry="5" fill="none" stroke="#7d8fd0" stroke-width="1.5" filter="url(#ha)"/>
<path d="M147.8 186.5L258 222M285.2 153.5L247.5 247.5M268 199.5L428.5 289.5" stroke="#050505" stroke-width="4" fill="none"/>
</g><clipPath id="gclip"><rect x="492.9" y="57" width="460.3" height="452.5"/></clipPath>
<filter id="ga" filterUnits="userSpaceOnUse" x="470" y="30" width="500" height="500" color-interpolation-filters="sRGB"><feGaussianBlur stdDeviation="0.7"/></filter>
<filter id="gb" filterUnits="userSpaceOnUse" x="470" y="30" width="500" height="500" color-interpolation-filters="sRGB"><feGaussianBlur stdDeviation="1.4"/></filter>
<filter id="gc" filterUnits="userSpaceOnUse" x="470" y="30" width="500" height="500" color-interpolation-filters="sRGB"><feGaussianBlur stdDeviation="2.6"/></filter>
<filter id="gd" filterUnits="userSpaceOnUse" x="470" y="30" width="500" height="500" color-interpolation-filters="sRGB"><feGaussianBlur stdDeviation="4.5"/></filter>
<filter id="ge" filterUnits="userSpaceOnUse" x="470" y="30" width="500" height="500" color-interpolation-filters="sRGB"><feGaussianBlur stdDeviation="8"/></filter>
<filter id="gf" filterUnits="userSpaceOnUse" x="470" y="30" width="500" height="500" color-interpolation-filters="sRGB"><feGaussianBlur stdDeviation="16"/></filter>
<filter id="gn" filterUnits="userSpaceOnUse" x="470" y="30" width="500" height="500" color-interpolation-filters="sRGB"><feTurbulence type="fractalNoise" baseFrequency="0.09" numOctaves="2" seed="11" result="t"/><feColorMatrix in="t" type="matrix" values="0.7 0.3 0 0 0  0.2 0.7 0.1 0 0  0 0.2 0.8 0 0  0 0 0 0 1" result="t2"/><feComposite in="SourceGraphic" in2="t2" operator="arithmetic" k1="0" k2="1" k3="0.26" k4="-0.13" result="m"/><feComposite in="m" in2="SourceGraphic" operator="in" result="q"/><feGaussianBlur in="q" stdDeviation="1.3"/></filter>
<linearGradient id="gbg" x1="0" y1="0" x2="1" y2="1"><stop offset="0" stop-color="#7398c4"/><stop offset="0.5" stop-color="#7096c0"/><stop offset="1" stop-color="#6c93bc"/></linearGradient>
<g clip-path="url(#gclip)">
<rect x="492.9" y="57" width="460.3" height="452.5" fill="url(#gbg)"/>
<path d="M610 400C633.3 398.3 630 386.7 680 395C730 403.3 710 410 760 425C810 440 806.7 435 830 440" stroke="#7da3cc" stroke-width="34" fill="none" stroke-linecap="round" filter="url(#gf)" opacity="0.5"/>
<path d="M800 400C816.7 376.7 820 376.7 850 330C880 283.3 861.7 298.3 890 260C918.3 221.7 920 230 935 215" stroke="#7da3cc" stroke-width="44" fill="none" stroke-linecap="round" filter="url(#gf)" opacity="0.5"/>
<path d="M858 60C862.7 73.3 863.3 73.3 872 100C880.7 126.7 880 126.7 884 140" stroke="#7da3cc" stroke-width="30" fill="none" stroke-linecap="round" filter="url(#gf)" opacity="0.5"/>
<path d="M640 505C666.7 503.3 670 511.7 720 500C770 488.3 753.3 490 790 470C826.7 450 816.7 450 830 440" stroke="#7da3cc" stroke-width="40" fill="none" stroke-linecap="round" filter="url(#gf)" opacity="0.5"/>
<path d="M880 300C886.7 326.7 906.7 333.3 900 380C893.3 426.7 873.3 420 860 440" stroke="#7da3cc" stroke-width="50" fill="none" stroke-linecap="round" filter="url(#gf)" opacity="0.5"/>
<g filter="url(#gn)">
<path d="M612 57C619.3 38.7 590.7 40.7 620 30C649.3 19.3 631.3 25 700 25C768.7 25 784 19.2 826 30C868 40.8 818.3 35.4 826 57.5C833.7 79.6 834.7 73.6 849 96.4C863.3 119.2 856.8 108.8 869 126C881.2 143.2 881.3 149.7 885.6 148C889.9 146.3 882 141 882 121C882 101 882.7 109.2 885.6 88C888.5 66.8 888.1 76.8 890.6 57.5C893.1 38.2 868.2 39.2 893 30C917.8 20.8 941 5.3 965 30C989 54.7 969.3 78.7 965 104C960.7 129.3 958 97.5 952 106C946 114.5 951.7 114.8 947 129.5C942.3 144.2 943.7 138.8 938 150C932.3 161.2 933.3 153.7 930 163C926.7 172.3 926.7 167 928 178C929.3 189 933.3 186.7 934 196C934.7 205.3 936.2 203 930 206C923.8 209 925.4 200.4 915.4 205C905.4 209.6 908.8 210.8 900 219.8C891.2 228.8 894.3 219.3 889 232C883.7 244.7 891.8 239.7 884 258C876.2 276.3 879.5 263 865.7 286.9C851.9 310.8 856.9 304.4 842.6 329.7C828.3 355 837.1 341.8 822.7 362.8C808.3 383.8 815.1 376.7 799.5 392.6C783.9 408.5 789.8 403.7 776 410.5C762.2 417.3 768.3 413.8 758 413C747.7 412.2 757 412.8 745 408C733 403.2 740.8 406.2 722 398.7C703.2 391.2 708.7 394.1 688.7 385.5C668.7 376.9 679.7 376.3 662 373C644.3 369.7 651 371.3 635.7 375.5C620.4 379.7 628.1 378.7 616 385.5C603.9 392.3 598 391.8 599.3 396C600.6 400.2 603.4 397.1 620 398C636.6 398.9 623.9 395.1 649 398.7C674.1 402.3 668.9 402.1 695.4 408.7C721.9 415.3 708.6 410.9 728.5 418.6C748.4 426.3 743.8 422.1 755 431.9C766.2 441.7 761.7 437 762 448C762.3 459 767.2 455 756 465C744.8 475 750.9 470.3 728.5 478C706.1 485.7 715.2 482.4 688.7 488C662.2 493.6 671.1 493.6 649 494.8C626.9 496 638.8 492.9 622.5 491.5C606.2 490.1 613.3 490.5 600 490.5C586.7 490.5 588.7 488.7 582.7 491.5C576.7 494.3 576.6 489.5 582 499C587.4 508.5 633 513 599 520C565 527 519.7 578.3 480 520C440.3 461.7 475.7 405 480 345C484.3 285 487 351.7 493 340C499 328.3 491.7 329 498 310C504.3 291 501 304.5 512 283C523 261.5 516.3 277.3 531 245.5C545.7 213.7 538.8 229 556 187.5C573.2 146 568.7 155.2 582.7 121C596.7 86.8 588.2 106.3 598 85C607.8 63.7 604.7 75.3 612 57Z" fill="#96509f"/>
<path d="M965 422C961 388.9 965.7 421.7 953 425.7C940.3 429.7 941.2 427.4 927 434C912.8 440.6 917.5 433.4 910.5 445.6C903.5 457.8 911 456.7 906 470.5C901 484.3 904.6 474 895.6 487C886.6 500 887.5 496.7 879 509.4C870.5 522.1 841.3 519.8 870 525C898.7 530.2 933.3 559.3 965 525C996.7 490.7 969 455.1 965 422Z" fill="#964d9d"/>
<mask id="gm"><rect x="470" y="30" width="500" height="500" fill="#000"/><path d="M612 57C619.3 38.7 590.7 40.7 620 30C649.3 19.3 631.3 25 700 25C768.7 25 784 19.2 826 30C868 40.8 818.3 35.4 826 57.5C833.7 79.6 834.7 73.6 849 96.4C863.3 119.2 856.8 108.8 869 126C881.2 143.2 881.3 149.7 885.6 148C889.9 146.3 882 141 882 121C882 101 882.7 109.2 885.6 88C888.5 66.8 888.1 76.8 890.6 57.5C893.1 38.2 868.2 39.2 893 30C917.8 20.8 941 5.3 965 30C989 54.7 969.3 78.7 965 104C960.7 129.3 958 97.5 952 106C946 114.5 951.7 114.8 947 129.5C942.3 144.2 943.7 138.8 938 150C932.3 161.2 933.3 153.7 930 163C926.7 172.3 926.7 167 928 178C929.3 189 933.3 186.7 934 196C934.7 205.3 936.2 203 930 206C923.8 209 925.4 200.4 915.4 205C905.4 209.6 908.8 210.8 900 219.8C891.2 228.8 894.3 219.3 889 232C883.7 244.7 891.8 239.7 884 258C876.2 276.3 879.5 263 865.7 286.9C851.9 310.8 856.9 304.4 842.6 329.7C828.3 355 837.1 341.8 822.7 362.8C808.3 383.8 815.1 376.7 799.5 392.6C783.9 408.5 789.8 403.7 776 410.5C762.2 417.3 768.3 413.8 758 413C747.7 412.2 757 412.8 745 408C733 403.2 740.8 406.2 722 398.7C703.2 391.2 708.7 394.1 688.7 385.5C668.7 376.9 679.7 376.3 662 373C644.3 369.7 651 371.3 635.7 375.5C620.4 379.7 628.1 378.7 616 385.5C603.9 392.3 598 391.8 599.3 396C600.6 400.2 603.4 397.1 620 398C636.6 398.9 623.9 395.1 649 398.7C674.1 402.3 668.9 402.1 695.4 408.7C721.9 415.3 708.6 410.9 728.5 418.6C748.4 426.3 743.8 422.1 755 431.9C766.2 441.7 761.7 437 762 448C762.3 459 767.2 455 756 465C744.8 475 750.9 470.3 728.5 478C706.1 485.7 715.2 482.4 688.7 488C662.2 493.6 671.1 493.6 649 494.8C626.9 496 638.8 492.9 622.5 491.5C606.2 490.1 613.3 490.5 600 490.5C586.7 490.5 588.7 488.7 582.7 491.5C576.7 494.3 576.6 489.5 582 499C587.4 508.5 633 513 599 520C565 527 519.7 578.3 480 520C440.3 461.7 475.7 405 480 345C484.3 285 487 351.7 493 340C499 328.3 491.7 329 498 310C504.3 291 501 304.5 512 283C523 261.5 516.3 277.3 531 245.5C545.7 213.7 538.8 229 556 187.5C573.2 146 568.7 155.2 582.7 121C596.7 86.8 588.2 106.3 598 85C607.8 63.7 604.7 75.3 612 57Z" fill="#fff" stroke="#000" stroke-width="13" filter="url(#gb)"/><path d="M965 422C961 388.9 965.7 421.7 953 425.7C940.3 429.7 941.2 427.4 927 434C912.8 440.6 917.5 433.4 910.5 445.6C903.5 457.8 911 456.7 906 470.5C901 484.3 904.6 474 895.6 487C886.6 500 887.5 496.7 879 509.4C870.5 522.1 841.3 519.8 870 525C898.7 530.2 933.3 559.3 965 525C996.7 490.7 969 455.1 965 422Z" fill="#fff" stroke="#000" stroke-width="12" filter="url(#gb)"/><path d="M652 164C662.7 169.7 664.7 168.7 684 181C703.3 193.3 701.3 194.3 710 201" stroke="#000" stroke-width="11" fill="none" stroke-linecap="round" filter="url(#gb)"/><path d="M748 180C762 189 765.3 192.3 790 207C814.7 221.7 802 215.7 822 224C842 232.3 828.3 230 850 232C871.7 234 874.7 230.7 887 230" stroke="#000" stroke-width="11" fill="none" stroke-linecap="round" filter="url(#gb)"/><path d="M700 254C712.3 263 714 264.3 737 281C760 297.7 749 295.3 769 304C789 312.7 787.7 306 797 307" stroke="#000" stroke-width="11" fill="none" stroke-linecap="round" filter="url(#gb)"/><path d="M684 279C701 285.3 703 285.3 735 298C767 310.7 756 306.3 780 317C804 327.7 789 327 807 330C825 333 825 327.3 834 326" stroke="#000" stroke-width="11" fill="none" stroke-linecap="round" filter="url(#gb)"/><path d="M598 306C605.3 306.7 604.7 305.7 620 308C635.3 310.3 636 311.3 644 313" stroke="#000" stroke-width="11" fill="none" stroke-linecap="round" filter="url(#gb)"/><path d="M725 60C733.3 65 733.3 65.7 750 75C766.7 84.3 766.7 83.7 775 88" stroke="#000" stroke-width="11" fill="none" stroke-linecap="round" filter="url(#gb)"/><path d="M768 117C782 121.3 782.7 122.3 810 130C837.3 137.7 836.7 136.7 850 140" stroke="#000" stroke-width="11" fill="none" stroke-linecap="round" filter="url(#gb)"/><path d="M600 398C613.3 398.3 610 395.3 640 399C670 402.7 673.3 405.7 690 409" stroke="#000" stroke-width="11" fill="none" stroke-linecap="round" filter="url(#gb)"/><path d="M905 88C910 92.7 910.3 92.3 920 102C929.7 111.7 929.3 112 934 117" stroke="#000" stroke-width="11" fill="none" stroke-linecap="round" filter="url(#gb)"/></mask>
<mask id="gm2"><rect x="470" y="30" width="500" height="500" fill="#000"/><path d="M612 57C619.3 38.7 590.7 40.7 620 30C649.3 19.3 631.3 25 700 25C768.7 25 784 19.2 826 30C868 40.8 818.3 35.4 826 57.5C833.7 79.6 834.7 73.6 849 96.4C863.3 119.2 856.8 108.8 869 126C881.2 143.2 881.3 149.7 885.6 148C889.9 146.3 882 141 882 121C882 101 882.7 109.2 885.6 88C888.5 66.8 888.1 76.8 890.6 57.5C893.1 38.2 868.2 39.2 893 30C917.8 20.8 941 5.3 965 30C989 54.7 969.3 78.7 965 104C960.7 129.3 958 97.5 952 106C946 114.5 951.7 114.8 947 129.5C942.3 144.2 943.7 138.8 938 150C932.3 161.2 933.3 153.7 930 163C926.7 172.3 926.7 167 928 178C929.3 189 933.3 186.7 934 196C934.7 205.3 936.2 203 930 206C923.8 209 925.4 200.4 915.4 205C905.4 209.6 908.8 210.8 900 219.8C891.2 228.8 894.3 219.3 889 232C883.7 244.7 891.8 239.7 884 258C876.2 276.3 879.5 263 865.7 286.9C851.9 310.8 856.9 304.4 842.6 329.7C828.3 355 837.1 341.8 822.7 362.8C808.3 383.8 815.1 376.7 799.5 392.6C783.9 408.5 789.8 403.7 776 410.5C762.2 417.3 768.3 413.8 758 413C747.7 412.2 757 412.8 745 408C733 403.2 740.8 406.2 722 398.7C703.2 391.2 708.7 394.1 688.7 385.5C668.7 376.9 679.7 376.3 662 373C644.3 369.7 651 371.3 635.7 375.5C620.4 379.7 628.1 378.7 616 385.5C603.9 392.3 598 391.8 599.3 396C600.6 400.2 603.4 397.1 620 398C636.6 398.9 623.9 395.1 649 398.7C674.1 402.3 668.9 402.1 695.4 408.7C721.9 415.3 708.6 410.9 728.5 418.6C748.4 426.3 743.8 422.1 755 431.9C766.2 441.7 761.7 437 762 448C762.3 459 767.2 455 756 465C744.8 475 750.9 470.3 728.5 478C706.1 485.7 715.2 482.4 688.7 488C662.2 493.6 671.1 493.6 649 494.8C626.9 496 638.8 492.9 622.5 491.5C606.2 490.1 613.3 490.5 600 490.5C586.7 490.5 588.7 488.7 582.7 491.5C576.7 494.3 576.6 489.5 582 499C587.4 508.5 633 513 599 520C565 527 519.7 578.3 480 520C440.3 461.7 475.7 405 480 345C484.3 285 487 351.7 493 340C499 328.3 491.7 329 498 310C504.3 291 501 304.5 512 283C523 261.5 516.3 277.3 531 245.5C545.7 213.7 538.8 229 556 187.5C573.2 146 568.7 155.2 582.7 121C596.7 86.8 588.2 106.3 598 85C607.8 63.7 604.7 75.3 612 57Z" fill="#fff" stroke="#000" stroke-width="30" filter="url(#gc)"/><path d="M965 422C961 388.9 965.7 421.7 953 425.7C940.3 429.7 941.2 427.4 927 434C912.8 440.6 917.5 433.4 910.5 445.6C903.5 457.8 911 456.7 906 470.5C901 484.3 904.6 474 895.6 487C886.6 500 887.5 496.7 879 509.4C870.5 522.1 841.3 519.8 870 525C898.7 530.2 933.3 559.3 965 525C996.7 490.7 969 455.1 965 422Z" fill="#fff" stroke="#000" stroke-width="26" filter="url(#gc)"/><path d="M652 164C662.7 169.7 664.7 168.7 684 181C703.3 193.3 701.3 194.3 710 201" stroke="#000" stroke-width="25" fill="none" stroke-linecap="round" filter="url(#gc)"/><path d="M748 180C762 189 765.3 192.3 790 207C814.7 221.7 802 215.7 822 224C842 232.3 828.3 230 850 232C871.7 234 874.7 230.7 887 230" stroke="#000" stroke-width="25" fill="none" stroke-linecap="round" filter="url(#gc)"/><path d="M700 254C712.3 263 714 264.3 737 281C760 297.7 749 295.3 769 304C789 312.7 787.7 306 797 307" stroke="#000" stroke-width="25" fill="none" stroke-linecap="round" filter="url(#gc)"/><path d="M684 279C701 285.3 703 285.3 735 298C767 310.7 756 306.3 780 317C804 327.7 789 327 807 330C825 333 825 327.3 834 326" stroke="#000" stroke-width="25" fill="none" stroke-linecap="round" filter="url(#gc)"/><path d="M598 306C605.3 306.7 604.7 305.7 620 308C635.3 310.3 636 311.3 644 313" stroke="#000" stroke-width="25" fill="none" stroke-linecap="round" filter="url(#gc)"/><path d="M725 60C733.3 65 733.3 65.7 750 75C766.7 84.3 766.7 83.7 775 88" stroke="#000" stroke-width="25" fill="none" stroke-linecap="round" filter="url(#gc)"/><path d="M768 117C782 121.3 782.7 122.3 810 130C837.3 137.7 836.7 136.7 850 140" stroke="#000" stroke-width="25" fill="none" stroke-linecap="round" filter="url(#gc)"/><path d="M600 398C613.3 398.3 610 395.3 640 399C670 402.7 673.3 405.7 690 409" stroke="#000" stroke-width="25" fill="none" stroke-linecap="round" filter="url(#gc)"/><path d="M905 88C910 92.7 910.3 92.3 920 102C929.7 111.7 929.3 112 934 117" stroke="#000" stroke-width="25" fill="none" stroke-linecap="round" filter="url(#gc)"/></mask>
<g mask="url(#gm)">
<rect x="492.9" y="57" width="460.3" height="452.5" fill="#4f4290"/>
<rect x="492.9" y="57" width="460.3" height="452.5" fill="#6c4a9b" mask="url(#gm2)"/>
<path d="M685 40C676.7 63.3 677.7 65 660 110C642.3 155 649.3 131.7 632 175C614.7 218.3 624 198.3 608 240C592 281.7 598.7 260 584 300C569.3 340 575.3 320 564 360C552.7 400 557 383.3 550 420C543 456.7 546.3 435 543 470C539.7 505 541 506.7 540 525" stroke="#5f62ad" stroke-width="80" fill="none" stroke-linecap="butt" filter="url(#ge)" opacity="0.9"/>
<path d="M640 30C633.3 48.3 632 54.7 620 85C608 115.3 618.3 87 604 121C589.7 155 594.3 145.7 577 187C559.7 228.3 566.7 213 552 245C537.3 277 544.3 260.7 533 283C521.7 305.3 526.3 291.3 518 312C509.7 332.7 514 315.7 508 345C502 374.3 504 361.7 500 400C496 438.3 498 418.3 496 460C494 501.7 494.7 503.3 494 525" stroke="#9c7abf" stroke-width="50" fill="none" stroke-linecap="butt" filter="url(#gc)" opacity="1"/>
<path d="M632 30C625.3 48.3 624 54.7 612 85C600 115.3 610.3 87 596 121C581.7 155 586.3 145.7 569 187C551.7 228.3 558.7 213 544 245C529.3 277 536.3 260.7 525 283C513.7 305.3 518.3 291.3 510 312C501.7 332.7 506 315.7 500 345C494 374.3 496 361.7 492 400C488 438.3 490 418.3 488 460C486 501.7 486.7 503.3 486 525" stroke="#ad84c4" stroke-width="24" fill="none" stroke-linecap="butt" filter="url(#gc)" opacity="0.9"/>
<path d="M892 40L965 40L965 104L947 130L930 163L905 150L886 110Z" fill="#9a55a4" filter="url(#gd)" opacity=".9"/>
<path d="M690 120C713.3 130 710 131.7 760 150C810 168.3 793.3 161.7 840 175C886.7 188.3 880 185 900 190" stroke="#4c3f8e" stroke-width="16" fill="none" stroke-linecap="round" filter="url(#gd)" opacity="0.85"/>
<path d="M700 215C723.3 226.7 726.7 230 770 250C813.3 270 810 266.7 830 275" stroke="#4b3e8d" stroke-width="16" fill="none" stroke-linecap="round" filter="url(#gd)" opacity="0.85"/>
<path d="M680 300C703.3 310 710 313.3 750 330C790 346.7 783.3 343.3 800 350" stroke="#4b3e8d" stroke-width="18" fill="none" stroke-linecap="round" filter="url(#gd)" opacity="0.85"/>
<path d="M650 345C673.3 354 680 356.3 720 372C760 387.7 753.3 385.3 770 392" stroke="#4d408f" stroke-width="12" fill="none" stroke-linecap="round" filter="url(#gd)" opacity="0.85"/>
<path d="M620 430C643.3 435 651.7 437.7 690 445C728.3 452.3 720 449.7 735 452" stroke="#483f8c" stroke-width="26" fill="none" stroke-linecap="round" filter="url(#gd)" opacity="0.85"/>
<path d="M700 60C720 66.7 723.3 68.3 760 80C796.7 91.7 793.3 90 810 95" stroke="#4c3f8e" stroke-width="18" fill="none" stroke-linecap="round" filter="url(#gd)" opacity="0.85"/>
<path d="M905 462C915 457.3 919 455.3 935 448C951 440.7 947 442.7 953 440" stroke="#4b3e8d" stroke-width="14" fill="none" stroke-linecap="round" filter="url(#gd)" opacity="0.85"/>
<path d="M900 500C913.3 496.7 926.7 493.3 940 490" stroke="#4b3e8d" stroke-width="16" fill="none" stroke-linecap="round" filter="url(#gd)" opacity="0.85"/>
<path d="M720 190C743.3 201.7 740 206.7 790 225C840 243.3 843.3 238.3 870 245" stroke="#94509f" stroke-width="7" fill="none" stroke-linecap="round" filter="url(#gc)" opacity="0.7"/>
<path d="M700 270C720 280 718.3 283.3 760 300C801.7 316.7 803.3 313.3 825 320" stroke="#94509f" stroke-width="7" fill="none" stroke-linecap="round" filter="url(#gc)" opacity="0.7"/>
<path d="M760 120C783.3 130 781.7 131.7 830 150C878.3 168.3 880 166.7 905 175" stroke="#94509f" stroke-width="6" fill="none" stroke-linecap="round" filter="url(#gc)" opacity="0.7"/>
<path d="M660 375C680 381.7 686.7 384 720 395C753.3 406 746.7 403.7 760 408" stroke="#94509f" stroke-width="5" fill="none" stroke-linecap="round" filter="url(#gc)" opacity="0.7"/>
<path d="M640 408C660 411.3 663.3 407.3 700 418C736.7 428.7 733.3 432.7 750 440" stroke="#96509e" stroke-width="5" fill="none" stroke-linecap="round" filter="url(#gc)" opacity="0.7"/>
<path d="M640 485C660 483.3 665 486.3 700 480C735 473.7 730 470.7 745 466" stroke="#96509e" stroke-width="5" fill="none" stroke-linecap="round" filter="url(#gc)" opacity="0.7"/>
<path d="M640 175C656.7 183.3 673.3 191.7 690 200" stroke="#4a3d95" stroke-width="9" fill="none" stroke-linecap="round" filter="url(#gb)" opacity="0.8"/>
<path d="M610 235C623.3 241.7 636.7 248.3 650 255" stroke="#4a3d95" stroke-width="9" fill="none" stroke-linecap="round" filter="url(#gb)" opacity="0.8"/>
<path d="M595 300C613.3 305 631.7 310 650 315" stroke="#4a3d95" stroke-width="9" fill="none" stroke-linecap="round" filter="url(#gb)" opacity="0.8"/>
<path d="M585 345C603.3 348.3 621.7 351.7 640 355" stroke="#4a3d95" stroke-width="8" fill="none" stroke-linecap="round" filter="url(#gb)" opacity="0.8"/>
<path d="M560 400C573.3 401.7 586.7 403.3 600 405" stroke="#4a3d95" stroke-width="9" fill="none" stroke-linecap="round" filter="url(#gb)" opacity="0.8"/>
<path d="M550 450C570 451.7 590 453.3 610 455" stroke="#4a3d95" stroke-width="9" fill="none" stroke-linecap="round" filter="url(#gb)" opacity="0.8"/>
<path d="M660 130C673.3 136.7 686.7 143.3 700 150" stroke="#4a3d95" stroke-width="8" fill="none" stroke-linecap="round" filter="url(#gb)" opacity="0.8"/>
<path d="M690 80C703.3 85 716.7 90 730 95" stroke="#4a3d95" stroke-width="8" fill="none" stroke-linecap="round" filter="url(#gb)" opacity="0.8"/>
</g>
</g>
<path d="M652 164C662.7 169.7 664.7 168.7 684 181C703.3 193.3 701.3 194.3 710 201" stroke="#9dbee4" stroke-width="5.5" fill="none" stroke-linecap="round" filter="url(#gb)" opacity="0.95"/>
<path d="M748 180C762 189 765.3 192.3 790 207C814.7 221.7 802 215.7 822 224C842 232.3 828.3 230 850 232C871.7 234 874.7 230.7 887 230" stroke="#9dbee4" stroke-width="4.2" fill="none" stroke-linecap="round" filter="url(#gb)" opacity="0.95"/>
<path d="M700 254C712.3 263 714 264.3 737 281C760 297.7 749 295.3 769 304C789 312.7 787.7 306 797 307" stroke="#9dbee4" stroke-width="4.2" fill="none" stroke-linecap="round" filter="url(#gb)" opacity="0.95"/>
<path d="M684 279C701 285.3 703 285.3 735 298C767 310.7 756 306.3 780 317C804 327.7 789 327 807 330C825 333 825 327.3 834 326" stroke="#9dbee4" stroke-width="4.2" fill="none" stroke-linecap="round" filter="url(#gb)" opacity="0.95"/>
<path d="M598 306C605.3 306.7 604.7 305.7 620 308C635.3 310.3 636 311.3 644 313" stroke="#9dbee4" stroke-width="4.5" fill="none" stroke-linecap="round" filter="url(#gb)" opacity="0.95"/>
<path d="M725 60C733.3 65 733.3 65.7 750 75C766.7 84.3 766.7 83.7 775 88" stroke="#9dbee4" stroke-width="2.4" fill="none" stroke-linecap="round" filter="url(#gb)" opacity="0.95"/>
<path d="M768 117C782 121.3 782.7 122.3 810 130C837.3 137.7 836.7 136.7 850 140" stroke="#9dbee4" stroke-width="2.4" fill="none" stroke-linecap="round" filter="url(#gb)" opacity="0.95"/>
<path d="M600 398C613.3 398.3 610 395.3 640 399C670 402.7 673.3 405.7 690 409" stroke="#9dbee4" stroke-width="2.6" fill="none" stroke-linecap="round" filter="url(#gb)" opacity="0.95"/>
<path d="M905 88C910 92.7 910.3 92.3 920 102C929.7 111.7 929.3 112 934 117" stroke="#9dbee4" stroke-width="2.4" fill="none" stroke-linecap="round" filter="url(#gb)" opacity="0.95"/>
<path d="M850 70C860 78.3 863.3 76.7 880 95C896.7 113.3 893.3 115 900 125" stroke="#a0c0e6" stroke-width="2.2" fill="none" stroke-linecap="round" filter="url(#gb)" opacity="0.7"/>
<path d="M596 130C602.3 126.7 603 130 615 120C627 110 626.3 106.7 632 100" stroke="#a0c0e6" stroke-width="2.5" fill="none" stroke-linecap="round" filter="url(#gb)" opacity="0.7"/>
<path d="M930 440C931.3 447.3 933.3 449.3 934 462C934.7 474.7 932.7 472.7 932 478" stroke="#a0c0e6" stroke-width="2.5" fill="none" stroke-linecap="round" filter="url(#gb)" opacity="0.7"/>
<path d="M560 255C568.3 257.3 568.3 257.7 585 262C601.7 266.3 601.7 266 610 268" stroke="#a0c0e6" stroke-width="2.5" fill="none" stroke-linecap="round" filter="url(#gb)" opacity="0.7"/>
<path d="M795 207C810 212 811.7 214 840 222C868.3 230 866.7 228 880 231" stroke="#a0c0e6" stroke-width="1.6" fill="none" stroke-linecap="round" filter="url(#gb)" opacity="0.7"/>
<g fill="#a9c6ea" filter="url(#ga)" opacity=".8" mask="url(#gm)"><circle cx="636.7" cy="140.7" r="2.4"/><circle cx="576.7" cy="442.2" r="1.9"/><circle cx="540.5" cy="421.9" r="1.3"/><circle cx="572.3" cy="469" r="1.8"/><circle cx="545.6" cy="405.1" r="2.5"/><circle cx="544.7" cy="338.9" r="1.7"/><circle cx="606.6" cy="170.6" r="1.2"/><circle cx="628.3" cy="152.8" r="1.5"/><circle cx="685.8" cy="79.7" r="1.5"/><circle cx="575.4" cy="423.2" r="2.3"/><circle cx="532.9" cy="360.5" r="2"/><circle cx="626.1" cy="259.8" r="1.8"/><circle cx="604.2" cy="233.6" r="1.9"/><circle cx="599.5" cy="186" r="2.6"/><circle cx="574.6" cy="242.2" r="1.9"/><circle cx="571.8" cy="339" r="1.5"/><circle cx="658.7" cy="154.2" r="2.3"/><circle cx="599.2" cy="203.2" r="1.4"/><circle cx="606.1" cy="266" r="2.5"/><circle cx="674.7" cy="153.6" r="2"/><circle cx="607" cy="204.4" r="2.4"/><circle cx="634.4" cy="151.9" r="2.2"/><circle cx="627" cy="105.4" r="1.6"/><circle cx="590.1" cy="262.3" r="2.1"/><circle cx="643.7" cy="178.6" r="1.6"/><circle cx="569.8" cy="382.1" r="1.5"/><circle cx="524" cy="439.3" r="2.3"/><circle cx="612.1" cy="271" r="1.9"/><circle cx="638.2" cy="186" r="1.4"/><circle cx="566.9" cy="364.3" r="2.4"/><circle cx="583.5" cy="330.3" r="2.3"/><circle cx="622.8" cy="119.9" r="1.2"/><circle cx="555.9" cy="279.6" r="1.6"/><circle cx="602.5" cy="212.2" r="1.5"/><circle cx="671.9" cy="124.9" r="2.2"/><circle cx="562.6" cy="430.2" r="2.3"/><circle cx="536" cy="483" r="1.8"/><circle cx="589.8" cy="305.6" r="2.2"/><circle cx="592.3" cy="217.9" r="2.2"/><circle cx="627.4" cy="228.9" r="2"/><circle cx="568.7" cy="340.8" r="2.6"/><circle cx="628.2" cy="202.7" r="1.5"/><circle cx="595.8" cy="346" r="1.6"/><circle cx="572.4" cy="237.9" r="2.3"/><circle cx="543.5" cy="487.6" r="2.2"/><circle cx="556.8" cy="384.3" r="1.8"/><circle cx="663" cy="112.3" r="1.6"/><circle cx="579.1" cy="348.2" r="1.5"/><circle cx="577.2" cy="267.9" r="2.1"/><circle cx="663.9" cy="93.1" r="2.4"/><circle cx="555.1" cy="449.4" r="2.2"/><circle cx="578.5" cy="336.8" r="2.5"/><circle cx="587.9" cy="258.8" r="2.2"/><circle cx="651.8" cy="77.2" r="2.2"/><circle cx="635.1" cy="89.2" r="2.5"/><circle cx="584" cy="414.4" r="1.4"/><circle cx="587.2" cy="255.2" r="2.2"/><circle cx="593.9" cy="185.2" r="2.5"/><circle cx="630.1" cy="168.8" r="2.2"/><circle cx="585.5" cy="382.1" r="1.8"/><circle cx="578.2" cy="343.3" r="2.1"/><circle cx="701.3" cy="62" r="2.3"/><circle cx="513" cy="462.3" r="1.3"/><circle cx="567.7" cy="336.3" r="2.5"/><circle cx="637.9" cy="124.8" r="2.5"/><circle cx="627.7" cy="198.2" r="1.8"/><circle cx="528.1" cy="421" r="2"/><circle cx="659.4" cy="156.2" r="1.9"/><circle cx="554.3" cy="412.7" r="2.5"/><circle cx="559.6" cy="412.4" r="1.9"/><circle cx="576" cy="335.8" r="2.3"/><circle cx="600.5" cy="184.9" r="2.1"/><circle cx="627.1" cy="104.8" r="1.9"/><circle cx="541.8" cy="406.7" r="1.4"/><circle cx="582" cy="332.8" r="1.4"/><circle cx="660.5" cy="69" r="1.5"/><circle cx="635.7" cy="155.2" r="2.4"/><circle cx="655" cy="152.3" r="2.1"/><circle cx="572.7" cy="370.3" r="1.4"/><circle cx="514.6" cy="442.1" r="1.3"/><circle cx="578.3" cy="407.3" r="2.5"/><circle cx="646.8" cy="212.1" r="2.3"/><circle cx="633.4" cy="110.1" r="1.2"/><circle cx="565.1" cy="287.4" r="2"/><circle cx="630.9" cy="253.5" r="2.3"/><circle cx="581.8" cy="414.2" r="1.5"/><circle cx="578.4" cy="317" r="1.7"/><circle cx="654.3" cy="188.7" r="2.3"/><circle cx="568.1" cy="398.7" r="1.9"/><circle cx="606.4" cy="226.2" r="1.5"/><circle cx="585.9" cy="276.7" r="1.5"/><circle cx="641.8" cy="132.7" r="1.9"/><circle cx="649.7" cy="176.5" r="2.3"/><circle cx="632.9" cy="219.9" r="2.2"/><circle cx="636.2" cy="132.7" r="2.1"/><circle cx="595.6" cy="317" r="1.9"/><circle cx="565.2" cy="463.7" r="1.3"/><circle cx="580.7" cy="231.7" r="1.7"/><circle cx="574.2" cy="341.6" r="2.4"/><circle cx="558.7" cy="431" r="1.8"/><circle cx="634.7" cy="122.6" r="2.4"/><circle cx="642" cy="97.4" r="2.3"/><circle cx="632.2" cy="189.2" r="1.9"/><circle cx="654.1" cy="144.2" r="2.2"/><circle cx="606.4" cy="225.5" r="2.4"/><circle cx="638.6" cy="181.7" r="1.4"/><circle cx="535.6" cy="343.8" r="2"/><circle cx="593.8" cy="270.3" r="1.8"/><circle cx="652.2" cy="95.1" r="2.3"/><circle cx="567.7" cy="400.6" r="1.8"/><circle cx="661.9" cy="120.3" r="1.5"/><circle cx="579.2" cy="351" r="1.4"/><circle cx="646" cy="104.5" r="1.5"/><circle cx="645.3" cy="77.6" r="1.4"/><circle cx="621.6" cy="134" r="1.4"/><circle cx="575.2" cy="251.3" r="1.5"/><circle cx="656.1" cy="67.1" r="1.3"/><circle cx="660.8" cy="154.5" r="2.2"/><circle cx="535.9" cy="416.9" r="2.5"/><circle cx="600.3" cy="234.6" r="1.3"/><circle cx="589.7" cy="279.9" r="2.5"/><circle cx="641.8" cy="106.2" r="1.6"/><circle cx="537.5" cy="433.1" r="2.1"/><circle cx="567.3" cy="287.3" r="2"/><circle cx="614.5" cy="264.6" r="1.4"/><circle cx="602.4" cy="207" r="2.5"/><circle cx="690.9" cy="81" r="2.2"/><circle cx="530.7" cy="426" r="2.2"/><circle cx="651.2" cy="86.3" r="1.5"/><circle cx="645.9" cy="76.2" r="1.5"/><circle cx="511.1" cy="483.3" r="2.4"/><circle cx="587.4" cy="261.8" r="1.5"/><circle cx="575.8" cy="399.5" r="1.9"/><circle cx="644.7" cy="205.1" r="1.6"/><circle cx="556" cy="475.6" r="2.4"/><circle cx="621.4" cy="164.3" r="2.3"/><circle cx="541.1" cy="432.6" r="1.6"/><circle cx="653.9" cy="198" r="1.5"/><circle cx="681.8" cy="118.8" r="2.6"/><circle cx="598.3" cy="273.3" r="1.4"/><circle cx="622.1" cy="268.2" r="1.9"/><circle cx="639.3" cy="60.1" r="1.8"/><circle cx="518.1" cy="445" r="1.4"/><circle cx="570.1" cy="322" r="1.8"/><circle cx="583.7" cy="292.6" r="1.2"/><circle cx="614.6" cy="285.2" r="2.1"/><circle cx="590.3" cy="229.9" r="1.9"/><circle cx="540" cy="418.8" r="2.3"/><circle cx="585.6" cy="237" r="1.3"/><circle cx="528" cy="431.3" r="2.3"/><circle cx="726.4" cy="144.5" r="1.9"/><circle cx="868.4" cy="180.1" r="1.9"/><circle cx="725.5" cy="168.9" r="1.3"/><circle cx="885" cy="110.1" r="1.5"/><circle cx="735.5" cy="121.5" r="2.1"/><circle cx="869.5" cy="167" r="2.1"/><circle cx="741.3" cy="111.8" r="1.6"/><circle cx="781" cy="183.7" r="2.4"/><circle cx="707.6" cy="195.4" r="2.3"/><circle cx="786.8" cy="160.1" r="2.1"/><circle cx="729.2" cy="150.1" r="2.4"/><circle cx="874.9" cy="188.5" r="1.3"/><circle cx="840.1" cy="133.2" r="2.3"/><circle cx="725" cy="141.3" r="1.3"/><circle cx="808.7" cy="309.5" r="1.2"/><circle cx="729.5" cy="245.6" r="2"/><circle cx="780.8" cy="236.9" r="2.3"/><circle cx="834.4" cy="278.5" r="1.9"/><circle cx="738.2" cy="296.7" r="1.7"/><circle cx="750.5" cy="312.5" r="1.4"/><circle cx="727.7" cy="314" r="1.5"/><circle cx="691" cy="330.3" r="1.4"/><circle cx="745.8" cy="264.5" r="1.5"/><circle cx="736.4" cy="289.1" r="1.3"/><circle cx="689.3" cy="413.6" r="1.3"/><circle cx="646.3" cy="426.8" r="1.6"/><circle cx="657.9" cy="468.6" r="2"/><circle cx="681.5" cy="464" r="2"/><circle cx="661" cy="453.1" r="2.1"/><circle cx="689.5" cy="462.7" r="2"/><circle cx="740.6" cy="428.5" r="2"/><circle cx="747" cy="447" r="2.3"/><circle cx="654.2" cy="380.6" r="1.5"/><circle cx="752.5" cy="359.6" r="1.8"/><circle cx="677.3" cy="348" r="2.2"/><circle cx="736.5" cy="374" r="1.3"/><circle cx="684" cy="397.8" r="1.4"/><circle cx="720.7" cy="378.8" r="1.8"/></g>
<g fill="#3a3488" filter="url(#ga)" opacity=".5" mask="url(#gm)"><circle cx="607.7" cy="333.1" r="2.1"/><circle cx="582.9" cy="388.7" r="1.6"/><circle cx="539.1" cy="375" r="2.6"/><circle cx="624" cy="261.7" r="2.5"/><circle cx="552.8" cy="395.6" r="2.3"/><circle cx="647.9" cy="121.1" r="1.7"/><circle cx="577.7" cy="264" r="2.5"/><circle cx="541.7" cy="437.1" r="1.6"/><circle cx="537.5" cy="455.4" r="2.5"/><circle cx="630.4" cy="312" r="1.9"/><circle cx="524.9" cy="463.3" r="1.8"/><circle cx="581.9" cy="201.1" r="1.5"/><circle cx="593.6" cy="316.1" r="2.3"/><circle cx="620.6" cy="254.7" r="2"/><circle cx="705.6" cy="116.7" r="2.6"/><circle cx="559.2" cy="465.1" r="1.9"/><circle cx="706.1" cy="99.8" r="2.3"/><circle cx="544.6" cy="334.9" r="1.4"/><circle cx="548.2" cy="429.2" r="2.4"/><circle cx="568" cy="428.1" r="1.6"/><circle cx="690.4" cy="107.8" r="1.6"/><circle cx="658" cy="194.8" r="2.3"/><circle cx="549.8" cy="403.5" r="2.5"/><circle cx="544.3" cy="437.1" r="2.3"/><circle cx="575.1" cy="223.7" r="2.6"/><circle cx="708.6" cy="108.8" r="1.9"/><circle cx="546.2" cy="468.4" r="2"/><circle cx="633" cy="107.9" r="2.5"/><circle cx="643.8" cy="143.3" r="2.5"/><circle cx="639.1" cy="274.5" r="1.5"/><circle cx="597.3" cy="461.4" r="2.5"/><circle cx="625.7" cy="140.5" r="1.6"/><circle cx="617.4" cy="155.6" r="1.8"/><circle cx="568.1" cy="412.7" r="1.7"/><circle cx="705.8" cy="117.1" r="2.3"/><circle cx="701.1" cy="96.1" r="1.9"/><circle cx="560.7" cy="275" r="2.3"/><circle cx="639.6" cy="174.1" r="2.6"/><circle cx="560.7" cy="366" r="1.9"/><circle cx="560.7" cy="470" r="2.1"/><circle cx="661.4" cy="69.4" r="1.4"/><circle cx="578.9" cy="360.3" r="2"/><circle cx="654.6" cy="149.1" r="2.6"/><circle cx="639.2" cy="197.7" r="2"/><circle cx="628.1" cy="263.5" r="1.9"/><circle cx="546.5" cy="405" r="1.7"/><circle cx="678.9" cy="72.4" r="2.1"/><circle cx="588.4" cy="309.5" r="1.6"/><circle cx="658.6" cy="59.4" r="2.1"/><circle cx="561.5" cy="397.3" r="2.4"/><circle cx="671.6" cy="172.8" r="2.4"/><circle cx="625" cy="162.3" r="1.7"/><circle cx="599.4" cy="209.5" r="1.5"/><circle cx="588.6" cy="462.9" r="2.3"/><circle cx="661.7" cy="153.3" r="1.8"/><circle cx="548" cy="396.9" r="2.3"/><circle cx="700.3" cy="87.6" r="2.2"/><circle cx="559.4" cy="300.1" r="1.9"/><circle cx="529.3" cy="406.2" r="2"/><circle cx="640.8" cy="81.7" r="2"/><circle cx="671.6" cy="191.6" r="1.3"/><circle cx="685.2" cy="132" r="1.7"/><circle cx="580.3" cy="277.2" r="2.2"/><circle cx="634.4" cy="255.9" r="2.1"/><circle cx="666.9" cy="182.9" r="1.9"/><circle cx="555.9" cy="301.8" r="1.5"/><circle cx="628.2" cy="287" r="2.6"/><circle cx="585.7" cy="257" r="1.7"/><circle cx="575.7" cy="354.9" r="1.8"/><circle cx="547.2" cy="394.9" r="1.5"/><circle cx="539.8" cy="412.3" r="2.3"/><circle cx="665.9" cy="151.7" r="1.6"/><circle cx="518.7" cy="417.8" r="1.8"/><circle cx="579.4" cy="313.6" r="2.3"/><circle cx="575.3" cy="382.1" r="2.2"/><circle cx="611.6" cy="318.8" r="2.6"/><circle cx="597.5" cy="336.6" r="1.6"/><circle cx="566.8" cy="467.2" r="2.3"/><circle cx="669.5" cy="82.2" r="1.4"/><circle cx="589.4" cy="314.6" r="1.7"/><circle cx="543.6" cy="353.5" r="1.7"/><circle cx="593.3" cy="269.8" r="2.1"/><circle cx="544.3" cy="454.8" r="2.5"/><circle cx="555.2" cy="351.2" r="2.3"/><circle cx="653.1" cy="118.2" r="1.5"/><circle cx="525.2" cy="365.8" r="2.2"/><circle cx="626.9" cy="167.5" r="1.4"/><circle cx="601.1" cy="177.3" r="1.9"/><circle cx="558.2" cy="388.4" r="1.9"/><circle cx="541.6" cy="315.5" r="1.4"/><circle cx="666.2" cy="72.6" r="2.4"/><circle cx="654.2" cy="72.9" r="2.5"/><circle cx="608.4" cy="145.2" r="1.9"/><circle cx="567.8" cy="419.5" r="2.4"/><circle cx="526.2" cy="455.4" r="2"/><circle cx="580.9" cy="376.7" r="2.4"/><circle cx="658.3" cy="114.6" r="1.9"/><circle cx="600.3" cy="353.3" r="1.5"/><circle cx="671.1" cy="123.6" r="1.6"/><circle cx="543.2" cy="410.5" r="1.9"/><circle cx="656.3" cy="93.3" r="2"/><circle cx="647.1" cy="119.3" r="2.3"/><circle cx="688" cy="90.3" r="2.5"/><circle cx="698" cy="154.7" r="2"/><circle cx="600.7" cy="447" r="1.5"/><circle cx="604.5" cy="169.7" r="1.5"/><circle cx="649.2" cy="203.6" r="2.4"/><circle cx="614.5" cy="286.9" r="1.6"/><circle cx="568.6" cy="346.8" r="1.8"/><circle cx="646.4" cy="181.1" r="2.2"/></g>
<circle cx="514.5" cy="284.5" r="2.2" fill="#15151c"/>
<circle cx="876" cy="109" r="2" fill="#3a3a55" opacity=".8"/>
<circle cx="749" cy="262" r="2.5" fill="#39305f" opacity=".7" filter="url(#ga)"/>
<circle cx="872" cy="436" r="6" fill="#6b8cb6" opacity=".5" filter="url(#gc)"/>
<path d="M629 182L716 223M766 107L706.5 253.5M757.5 133.5L928.5 199" stroke="#050505" stroke-width="4" fill="none"/>
</g>
<text transform="translate(7.3 20.4) scale(1 1)" font-size="28">a</text>
<text transform="translate(996.6 24.3) scale(1 1)" font-size="28">b</text>
<text transform="translate(9 565.6) scale(1 1)" font-size="28">c</text>
<text transform="translate(513.8 569.6) scale(1 1)" font-size="28">d</text>
<text transform="translate(996.2 565.7) scale(1 1)" font-size="28">e</text>
<text transform="translate(11.3 1043) scale(1 1)" font-size="28">f</text>
<text transform="translate(999.4 1037) scale(1 1)" font-size="28">g</text>
<g>
<rect x="1120" y="206.7" width="111" height="179.4" rx="1.2" fill="#060707"/>
<rect x="1283.8" y="193" width="108.2" height="193.1" fill="#fff" stroke="#060707" stroke-width="3" stroke-linejoin="round"/>
<path d="M1148.8 195.5H1202M1175.4 195.5V207.5" stroke="#060707" stroke-width="3" stroke-linecap="round" fill="none"/>
<path d="M1311.5 151H1364.8M1337.8 151V192.3" stroke="#060707" stroke-width="3" stroke-linecap="round" fill="none"/>
<path d="M1094.4 59V386.1M1082.1 386.1H1419M1082.1 61.4H1094.4M1082.1 142.6H1094.4M1082.1 223.8H1094.4M1082.1 305H1094.4M1175.4 386.1V398.3M1337.8 386.1V398.3" stroke="#060707" stroke-width="4.8" fill="none"/>
<text x="1081.7" y="70.46" text-anchor="end" font-size="25.3" font-weight="bold">400</text>
<text x="1081.7" y="151.66" text-anchor="end" font-size="25.3" font-weight="bold">300</text>
<text x="1081.7" y="232.86" text-anchor="end" font-size="25.3" font-weight="bold">200</text>
<text x="1081.7" y="314.06" text-anchor="end" font-size="25.3" font-weight="bold">100</text>
<text x="1081.7" y="395.16" text-anchor="end" font-size="25.3" font-weight="bold">0</text>
<text x="1175.4" y="422.2" text-anchor="middle" font-size="25" font-weight="bold" letter-spacing="0.35">Control</text>
<text x="1337.8" y="422.2" text-anchor="middle" font-size="25" font-weight="bold" letter-spacing="0.35">Glutamine</text>
<text x="1257" y="23.3" text-anchor="middle" font-size="30" font-weight="bold">Villus</text>
<text transform="translate(1001.5 224) rotate(-90) scale(0.9218 1)" text-anchor="middle" font-size="28" font-weight="bold" stroke="#060707" stroke-width="0.5" xml:space="preserve">Length (<tspan font-weight="normal" stroke="none">μ</tspan>m)</text>
</g>
<g>
<rect x="139.7" y="665.3" width="110.6" height="259.5" rx="1.2" fill="#060707"/>
<rect x="303.5" y="694.7" width="107" height="230.1" fill="#fff" stroke="#060707" stroke-width="3" stroke-linejoin="round"/>
<path d="M168.3 644.3H220.8M194.5 644.3V666.1" stroke="#060707" stroke-width="3" stroke-linecap="round" fill="none"/>
<path d="M331.3 667.7H383.1M357 667.7V695.5" stroke="#060707" stroke-width="3" stroke-linecap="round" fill="none"/>
<path d="M113.8 597.9V924.8M101.5 924.8H438M101.5 600.4H113.8M101.5 708.4H113.8M101.5 816.5H113.8M194.5 924.8V936.5M357 924.8V936.5" stroke="#060707" stroke-width="4.8" fill="none"/>
<text x="101.1" y="609.46" text-anchor="end" font-size="25.3" font-weight="bold">150</text>
<text x="101.1" y="717.46" text-anchor="end" font-size="25.3" font-weight="bold">100</text>
<text x="101.1" y="825.56" text-anchor="end" font-size="25.3" font-weight="bold">50</text>
<text x="101.1" y="933.86" text-anchor="end" font-size="25.3" font-weight="bold">0</text>
<text x="194.5" y="959.6" text-anchor="middle" font-size="25" font-weight="bold" letter-spacing="0.35">Control</text>
<text x="357" y="959.6" text-anchor="middle" font-size="25" font-weight="bold" letter-spacing="0.35">Glutamine</text>
<text x="276.5" y="561.5" text-anchor="middle" font-size="31" font-weight="bold">Crypt</text>
<text transform="translate(21 762.8) rotate(-90) scale(0.9360 1)" text-anchor="middle" font-size="27.5" font-weight="bold" stroke="#060707" stroke-width="0.5" xml:space="preserve">Length (<tspan font-weight="normal" stroke="none">μ</tspan>m)</text>
<path d="M182.7 631.5V626.4H367.7V631.5" stroke="#060707" stroke-width="3.2" fill="none" stroke-linejoin="round" stroke-linecap="round"/>
<text x="286.5" y="617" text-anchor="middle" font-size="31.2">P=0.04</text>
</g>
<g>
<rect x="602.5" y="733.7" width="111.9" height="195.5" rx="1.2" fill="#060707"/>
<rect x="766.7" y="687.3" width="109.3" height="241.9" fill="#fff" stroke="#060707" stroke-width="3" stroke-linejoin="round"/>
<path d="M632.7 728.2H684.9M658.6 728.2V734.5" stroke="#060707" stroke-width="3" stroke-linecap="round" fill="none"/>
<path d="M795.5 656.5H848.3M822.4 656.5V688.1" stroke="#060707" stroke-width="3" stroke-linecap="round" fill="none"/>
<path d="M577.4 601.8V929.2M564 929.2H903.5M564 604.2H577.4M564 712.5H577.4M564 820.9H577.4M658.6 929.2V941M822.4 929.2V941" stroke="#060707" stroke-width="4.8" fill="none"/>
<text x="563.6" y="613.26" text-anchor="end" font-size="25.3" font-weight="bold">3</text>
<text x="563.6" y="721.56" text-anchor="end" font-size="25.3" font-weight="bold">2</text>
<text x="563.6" y="829.96" text-anchor="end" font-size="25.3" font-weight="bold">1</text>
<text x="563.6" y="938.26" text-anchor="end" font-size="25.3" font-weight="bold">0</text>
<text x="658.6" y="964" text-anchor="middle" font-size="25" font-weight="bold" letter-spacing="0.35">Control</text>
<text x="822.4" y="964" text-anchor="middle" font-size="25" font-weight="bold" letter-spacing="0.35">Glutamine</text>
<text transform="translate(514.2 766.9) rotate(-90) scale(0.9414 1)" text-anchor="middle" font-size="28" font-weight="bold" stroke="#060707" stroke-width="0.5" xml:space="preserve">Villus/Crypt</text>
<path d="M605.2 641.6V635.9H824.4V641.6" stroke="#060707" stroke-width="3.2" fill="none" stroke-linejoin="round" stroke-linecap="round"/>
<text x="714.3" y="628" text-anchor="middle" font-size="31.2">P=0.002</text>
</g>
<g>
<rect x="1120" y="743.5" width="111" height="181.25" rx="1.2" fill="#060707"/>
<rect x="1283.8" y="725" width="108.2" height="199.75" fill="#fff" stroke="#060707" stroke-width="3" stroke-linejoin="round"/>
<path d="M1149.1 707.3H1201.1M1175.4 707.3V744.3" stroke="#060707" stroke-width="3" stroke-linecap="round" fill="none"/>
<path d="M1311.5 665.2H1363.5M1337.8 665.2V725.8" stroke="#060707" stroke-width="3" stroke-linecap="round" fill="none"/>
<path d="M1094.3 597.7V924.75M1082 924.75H1419M1082 600.1H1094.3M1082 681.3H1094.3M1082 762.4H1094.3M1082 843.6H1094.3M1175.4 924.75V936.6M1337.8 924.75V936.6" stroke="#060707" stroke-width="4.8" fill="none"/>
<text x="1081.6" y="609.16" text-anchor="end" font-size="25.3" font-weight="bold">2.0</text>
<text x="1081.6" y="690.36" text-anchor="end" font-size="25.3" font-weight="bold">1.5</text>
<text x="1081.6" y="771.46" text-anchor="end" font-size="25.3" font-weight="bold">1.0</text>
<text x="1081.6" y="852.66" text-anchor="end" font-size="25.3" font-weight="bold">0.5</text>
<text x="1081.6" y="933.81" text-anchor="end" font-size="25.3" font-weight="bold">0.0</text>
<text x="1175.4" y="960.2" text-anchor="middle" font-size="25" font-weight="bold" letter-spacing="0.35">Control</text>
<text x="1337.8" y="960.2" text-anchor="middle" font-size="25" font-weight="bold" letter-spacing="0.35">Glutamine</text>
<text x="1257.3" y="561.4" text-anchor="middle" font-size="31" font-weight="bold" font-style="italic">Sucrase</text>
<text transform="translate(1009.3 762.6) rotate(-90) scale(0.9046 1)" text-anchor="middle" font-size="28" font-weight="bold" stroke="#060707" stroke-width="0.5" xml:space="preserve">Fold  Change</text>
</g>
<g>
<rect x="141.4" y="1188.8" width="108.9" height="222.9" rx="1.2" fill="#060707"/>
<rect x="302.5" y="1254.4" width="106" height="157.3" fill="#fff" stroke="#060707" stroke-width="3" stroke-linejoin="round"/>
<path d="M170 1160.4H221.1M195.5 1160.4V1189.6" stroke="#060707" stroke-width="3" stroke-linecap="round" fill="none"/>
<path d="M329 1245.6H380.8M354.5 1245.6V1255.2" stroke="#060707" stroke-width="3" stroke-linecap="round" fill="none"/>
<path d="M116.2 1090.4V1411.7M103.8 1411.7H434M103.8 1092.8H116.2M103.8 1199.1H116.2M103.8 1305.4H116.2M195.5 1411.7V1423.5M354.5 1411.7V1423.5" stroke="#060707" stroke-width="4.8" fill="none"/>
<text x="103.4" y="1101.86" text-anchor="end" font-size="25.3" font-weight="bold">1.5</text>
<text x="103.4" y="1208.16" text-anchor="end" font-size="25.3" font-weight="bold">1.0</text>
<text x="103.4" y="1314.46" text-anchor="end" font-size="25.3" font-weight="bold">0.5</text>
<text x="103.4" y="1420.76" text-anchor="end" font-size="25.3" font-weight="bold">0.0</text>
<text x="195.8" y="1444.9" text-anchor="middle" font-size="24.8" font-weight="bold" letter-spacing="0.35">Control</text>
<text x="354.8" y="1444.9" text-anchor="middle" font-size="24.8" font-weight="bold" letter-spacing="0.35">Glutamine</text>
<text x="276.2" y="1055.1" text-anchor="middle" font-size="30" font-weight="bold" font-style="italic">Pyy</text>
<text transform="translate(32.9 1253) rotate(-90) scale(0.8904 1)" text-anchor="middle" font-size="27.7" font-weight="bold" stroke="#060707" stroke-width="0.5" xml:space="preserve">Fold  Change</text>
</g>
<g>
<rect x="606" y="1192.2" width="111" height="219.5" rx="1.2" fill="#060707"/>
<rect x="769.9" y="1203.3" width="109.6" height="208.4" fill="#fff" stroke="#060707" stroke-width="3" stroke-linejoin="round"/>
<path d="M635.5 1180H687.7M661.1 1180V1193" stroke="#060707" stroke-width="3" stroke-linecap="round" fill="none"/>
<path d="M798.6 1189.8H850.8M824.2 1189.8V1204.1" stroke="#060707" stroke-width="3" stroke-linecap="round" fill="none"/>
<path d="M579.4 1084.4V1411.7M566.9 1411.7H906.4M566.9 1086.8H579.4M566.9 1195.1H579.4M566.9 1303.4H579.4M661.1 1411.7V1423.9M824.2 1411.7V1423.9" stroke="#060707" stroke-width="4.8" fill="none"/>
<text x="566.5" y="1095.86" text-anchor="end" font-size="25.3" font-weight="bold">1.5</text>
<text x="566.5" y="1204.16" text-anchor="end" font-size="25.3" font-weight="bold">1.0</text>
<text x="566.5" y="1312.46" text-anchor="end" font-size="25.3" font-weight="bold">0.5</text>
<text x="566.5" y="1420.76" text-anchor="end" font-size="25.3" font-weight="bold">0.0</text>
<text x="660.6" y="1447.2" text-anchor="middle" font-size="25" font-weight="bold" letter-spacing="0.35">Control</text>
<text x="824.7" y="1447.2" text-anchor="middle" font-size="25" font-weight="bold" letter-spacing="0.35">Glutamine</text>
<text x="743.5" y="1048.4" text-anchor="middle" font-size="31.6" font-weight="bold" font-style="italic">Chga</text>
<text transform="translate(494.3 1250.3) rotate(-90) scale(0.9047 1)" text-anchor="middle" font-size="27.7" font-weight="bold" stroke="#060707" stroke-width="0.5" xml:space="preserve">Fold  Change</text>
</g>
<g>
<rect x="1119.1" y="1176.3" width="109.4" height="235.2" rx="1.2" fill="#060707"/>
<rect x="1279.5" y="1147.2" width="106.6" height="264.3" fill="#fff" stroke="#060707" stroke-width="3" stroke-linejoin="round"/>
<path d="M1148.1 1134.6H1199.5M1173.5 1134.6V1177.1" stroke="#060707" stroke-width="3" stroke-linecap="round" fill="none"/>
<path d="M1307.6 1125.5H1358.6M1333 1125.5V1148" stroke="#060707" stroke-width="3" stroke-linecap="round" fill="none"/>
<path d="M1094.4 1091.4V1411.5M1082.1 1411.5H1411.2M1082.1 1093.8H1094.4M1082.1 1199.7H1094.4M1082.1 1305.6H1094.4M1173.5 1411.5V1423.1M1333 1411.5V1423.1" stroke="#060707" stroke-width="4.8" fill="none"/>
<text x="1081.7" y="1102.86" text-anchor="end" font-size="25.3" font-weight="bold">1.5</text>
<text x="1081.7" y="1208.76" text-anchor="end" font-size="25.3" font-weight="bold">1.0</text>
<text x="1081.7" y="1314.66" text-anchor="end" font-size="25.3" font-weight="bold">0.5</text>
<text x="1081.7" y="1420.56" text-anchor="end" font-size="25.3" font-weight="bold">0.0</text>
<text x="1173.5" y="1446.4" text-anchor="middle" font-size="24.8" font-weight="bold" letter-spacing="0.35">Control</text>
<text x="1332.5" y="1446.4" text-anchor="middle" font-size="24.8" font-weight="bold" letter-spacing="0.35">Glutamine</text>
<text x="1252.7" y="1056.6" text-anchor="middle" font-size="31" font-weight="bold" font-style="italic">Math1</text>
<text transform="translate(1011.2 1253.7) rotate(-90) scale(0.9053 1)" text-anchor="middle" font-size="27" font-weight="bold" stroke="#060707" stroke-width="0.5" xml:space="preserve">Fold  Change</text>
</g>
<g>
<rect x="138.7" y="1606.7" width="107.3" height="222" rx="1.2" fill="#060707"/>
<rect x="297.5" y="1590.8" width="104.2" height="237.9" fill="#fff" stroke="#060707" stroke-width="3" stroke-linejoin="round"/>
<path d="M167.3 1582.4H217.7M192.5 1582.4V1607.5" stroke="#060707" stroke-width="3" stroke-linecap="round" fill="none"/>
<path d="M324.5 1573.6H374.7M350.1 1573.6V1591.6" stroke="#060707" stroke-width="3" stroke-linecap="round" fill="none"/>
<path d="M113.9 1510.6V1828.7M101.8 1828.7H428M101.8 1513H113.9M101.8 1618.2H113.9M101.8 1723.5H113.9M192.5 1828.7V1840.5M350.1 1828.7V1840.5" stroke="#060707" stroke-width="4.8" fill="none"/>
<text x="101.4" y="1522.06" text-anchor="end" font-size="25.3" font-weight="bold">1.5</text>
<text x="101.4" y="1627.26" text-anchor="end" font-size="25.3" font-weight="bold">1.0</text>
<text x="101.4" y="1732.56" text-anchor="end" font-size="25.3" font-weight="bold">0.5</text>
<text x="101.4" y="1837.76" text-anchor="end" font-size="25.3" font-weight="bold">0.0</text>
<text x="192" y="1861.5" text-anchor="middle" font-size="24.3" font-weight="bold" letter-spacing="0.35">Control</text>
<text x="350.5" y="1861.5" text-anchor="middle" font-size="24.3" font-weight="bold" letter-spacing="0.35">Glutamine</text>
<text x="271.6" y="1474.1" text-anchor="middle" font-size="30" font-weight="bold" font-style="italic">Hes1</text>
<text transform="translate(28.5 1671.8) rotate(-90) scale(0.9224 1)" text-anchor="middle" font-size="26.5" font-weight="bold" stroke="#060707" stroke-width="0.5" xml:space="preserve">Fold  Change</text>
</g>
</svg>
</body>
</html>
